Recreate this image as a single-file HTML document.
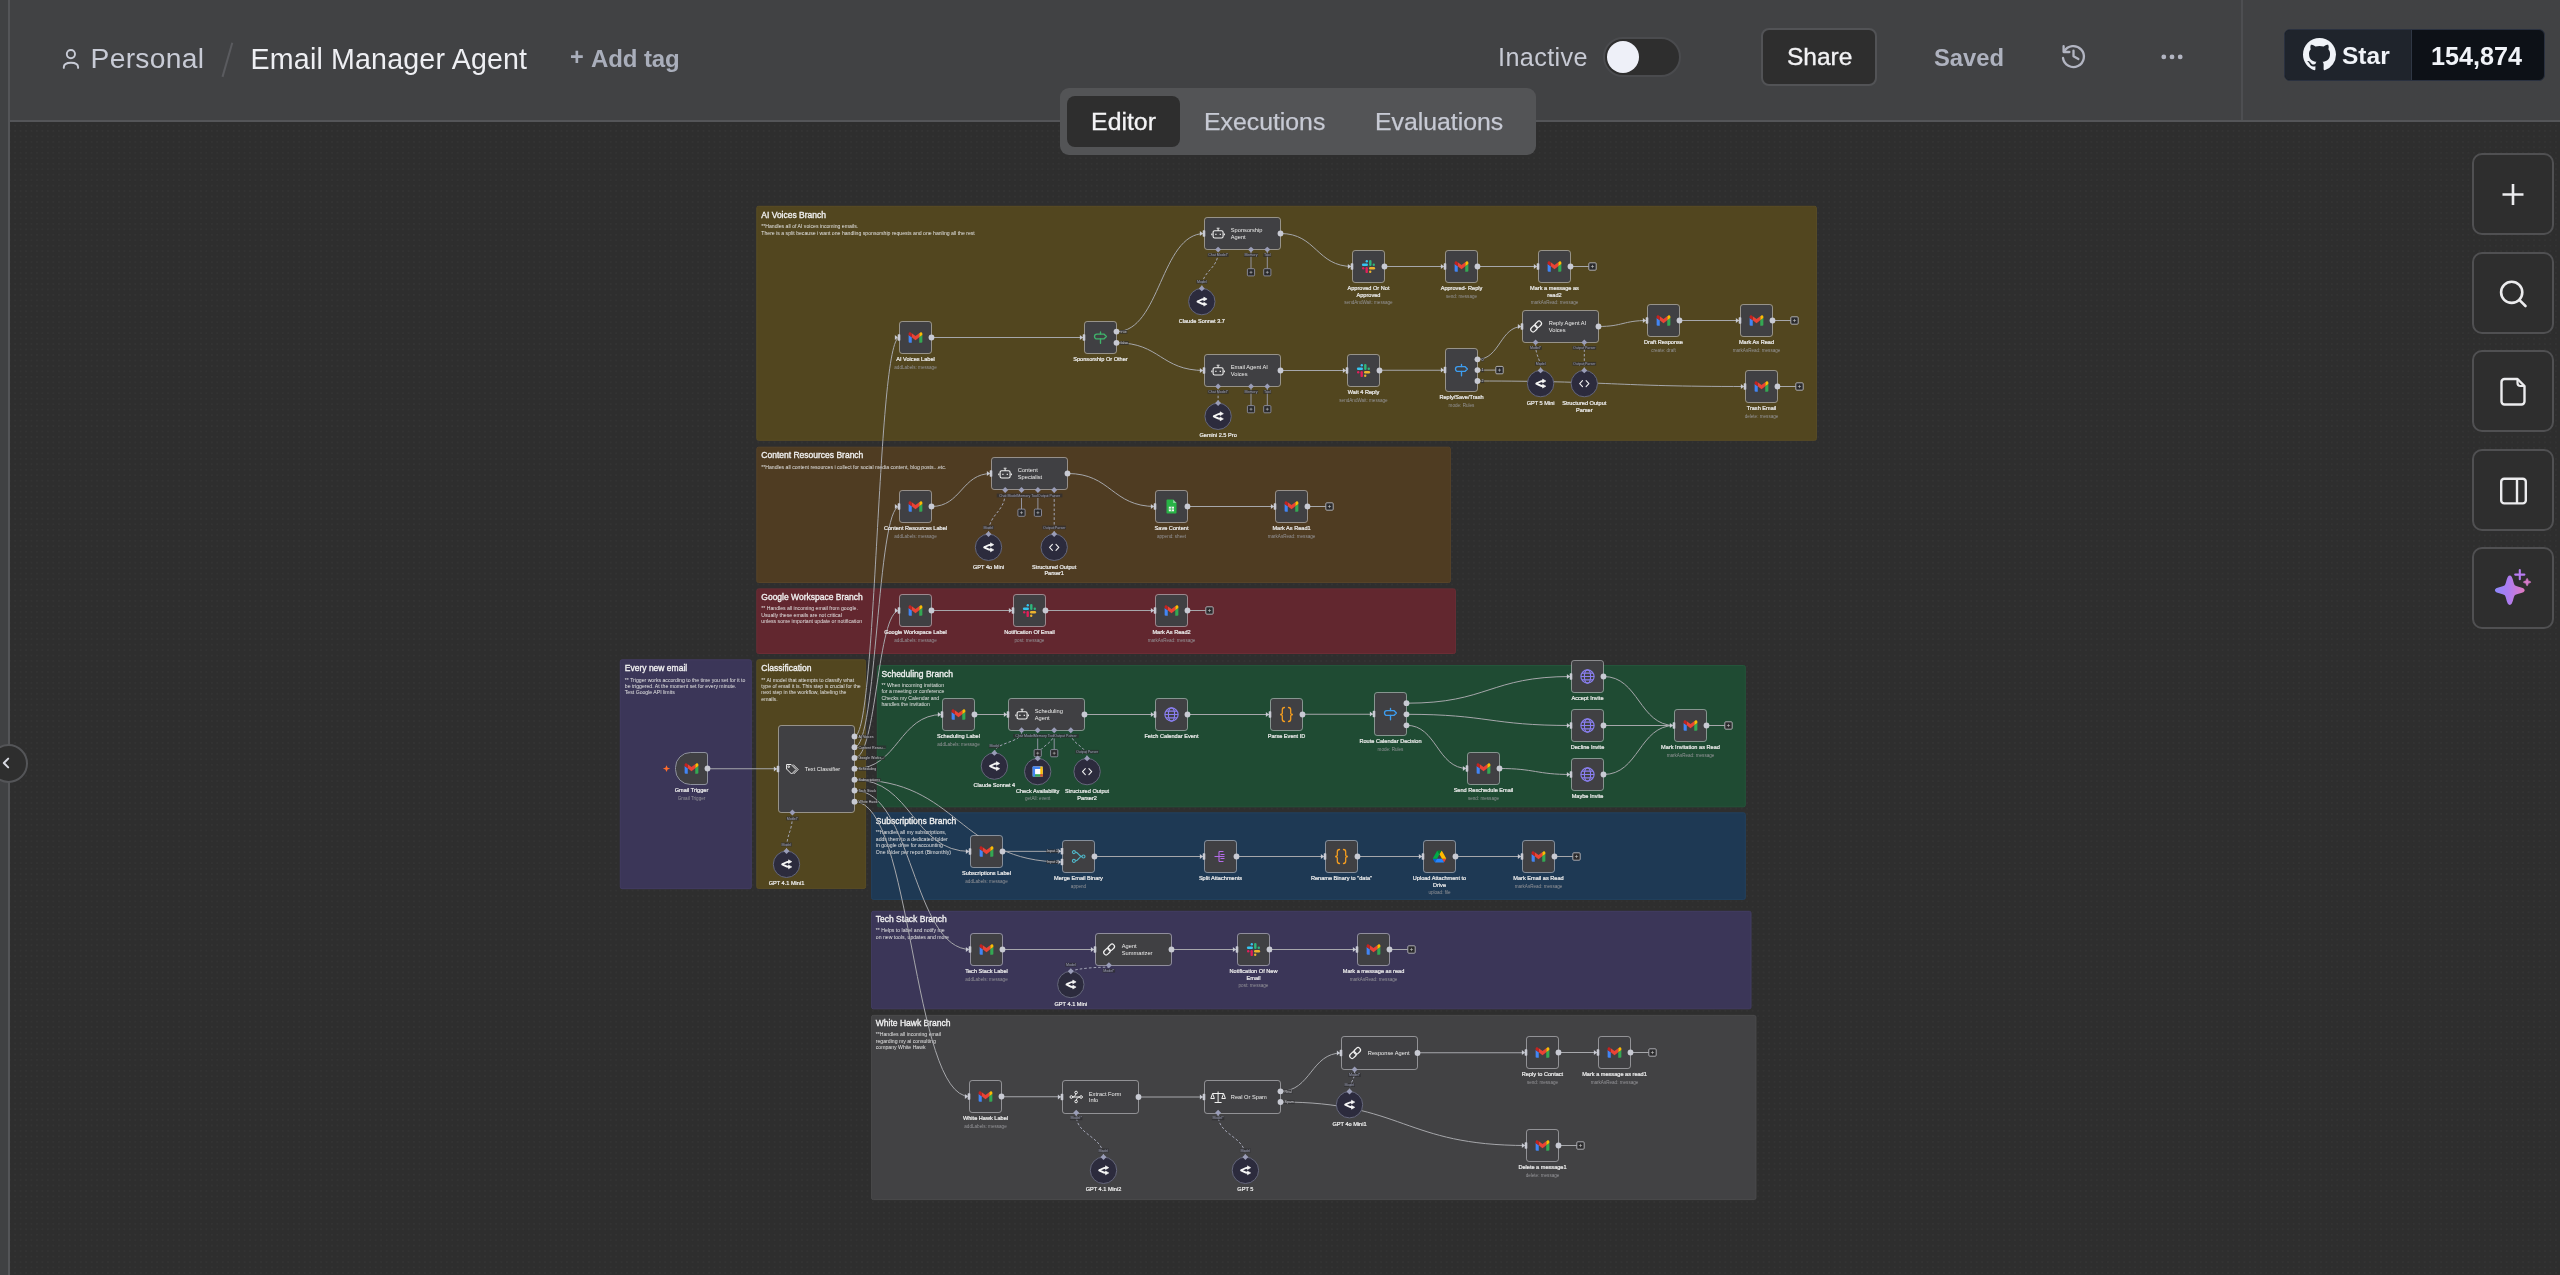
<!DOCTYPE html>
<html><head><meta charset="utf-8"><title>Email Manager Agent - n8n</title>
<style>
*{box-sizing:border-box;margin:0;padding:0}
html{-webkit-font-smoothing:antialiased}
#hdr,#tabs,#canvas,.rbtn{will-change:transform}
html,body{width:2560px;height:1275px;overflow:hidden}
body{background:#2e2e2e;font-family:"Liberation Sans", Arial, Helvetica, sans-serif;position:relative}
#side{position:absolute;left:0;top:0;width:10px;height:1275px;background:#404143;border-right:2px solid #545558}
#hdr{position:absolute;left:10px;top:0;width:2550px;height:122px;background:#414244;border-bottom:2px solid #545558}
#hdr .t{position:absolute;white-space:nowrap;line-height:1}
#vdiv{position:absolute;left:2231px;top:0;width:2px;height:120px;background:#4d4e51}
#canvas{position:absolute;left:0;top:0}
#canvas text{font-family:"Liberation Sans", Arial, Helvetica, sans-serif}
.st{font-size:8.5px;font-weight:400;fill:#f1f1f1;stroke:#f1f1f1;stroke-width:0.33px}
.sb{font-size:5.15px;fill:#e2e2e2}
.nl{font-size:5.6px;font-weight:400;fill:#ececec;stroke:#ececec;stroke-width:0.22px}
.ns{font-size:4.6px;fill:#949498}
.nt{font-size:5.7px;fill:#ededed}
.pl{font-size:3.6px;fill:#c9c9cf}
.pt{font-size:3.6px;fill:#9ea1b8}
.ic{font-family:"Liberation Sans", Arial, Helvetica, sans-serif;font-weight:400}
#tabs{position:absolute;left:1060px;top:88px;width:476px;height:67px;background:#535456;border-radius:9px}
#tabs .tab{position:absolute;top:8px;height:51px;line-height:51px;font-size:24.8px;color:#c7cad4;white-space:nowrap;-webkit-text-stroke:0.25px #c7cad4}
#tabs .act{background:#2e2e2e;border-radius:8px;color:#f4f4f6;text-align:center;-webkit-text-stroke:0.3px #f4f4f6}
.rbtn{position:absolute;left:2472px;width:82px;height:82px;border:2px solid #505052;border-radius:10px;background:#2e2e2e}
.rbtn svg{position:absolute;left:0;top:0}
#collapse{position:absolute;left:-11px;top:744px;width:39px;height:39px;border-radius:50%;background:#2e2e2e;border:2px solid #545558}
</style></head>
<body>
<div id="side"></div>
<div id="hdr">
  <svg style="position:absolute;left:52px;top:48.6px" width="18" height="22" viewBox="0 0 18 22"><circle cx="8.9" cy="5.1" r="4.1" fill="none" stroke="#c8cbd6" stroke-width="1.9"/><path d="M1.8,18.9 V18.3 C1.8,15.4 4.6,13.75 9,13.75 C13.4,13.75 16.1,15.4 16.1,18.3 V18.9" fill="none" stroke="#c8cbd6" stroke-width="1.9" stroke-linecap="round"/></svg>
  <div class="t" style="left:80.6px;top:44.2px;font-size:28.2px;letter-spacing:0.3px;color:#c8cbd6">Personal</div>
  <svg style="position:absolute;left:210px;top:41px" width="14" height="37"><path d="M12.3,1.7 L2.5,35.9" stroke="#5a5b5f" stroke-width="2"/></svg>
  <div class="t" style="left:240.6px;top:44.8px;font-size:28.6px;letter-spacing:0.17px;color:#eeeff3">Email Manager Agent</div>
  <div class="t" style="left:560px;top:46px;font-size:23.5px;font-weight:700;color:#a9aebb">+</div><div class="t" style="left:581px;top:46.5px;font-size:24px;letter-spacing:-0.1px;font-weight:700;color:#a9aebb">Add tag</div>
  <div class="t" style="left:1488px;top:44.7px;font-size:25.2px;letter-spacing:0.4px;color:#c7cad4">Inactive</div>
  <div style="position:absolute;left:1593px;top:37px;width:78px;height:40px;border-radius:20px;background:#2e2e2e;border:2px solid #4a4b4e"></div>
  <div style="position:absolute;left:1596.5px;top:41px;width:32px;height:32px;border-radius:50%;background:#eef0f8"></div>
  <div style="position:absolute;left:1751px;top:28px;width:116px;height:58px;border-radius:8px;background:#2e2e2e;border:2px solid #525356"></div>
  <div class="t" style="left:1777px;top:45.2px;font-size:24.5px;-webkit-text-stroke:0.35px #f2f2f4;color:#f2f2f4">Share</div>
  <div class="t" style="left:1924px;top:45.8px;font-size:23.8px;font-weight:700;color:#aeb2bf">Saved</div>
  <svg style="position:absolute;left:2049px;top:42.3px" width="30" height="28" viewBox="0 0 30 28"><path d="M5.2,9.5 A10.5,10.5 0 1 1 4,16" fill="none" stroke="#b2b5c2" stroke-width="2.3" stroke-linecap="round"/><path d="M4.6,4.2 V10 H10.4" fill="none" stroke="#b2b5c2" stroke-width="2.3" stroke-linecap="round" stroke-linejoin="round"/><path d="M14.5,8.6 V14.2 L19.4,17" fill="none" stroke="#b2b5c2" stroke-width="2.3" stroke-linecap="round" stroke-linejoin="round"/></svg>
  <svg style="position:absolute;left:2150px;top:53px" width="24" height="8"><circle cx="3.8" cy="3.9" r="2.4" fill="#b2b5c2"/><circle cx="12" cy="3.9" r="2.4" fill="#b2b5c2"/><circle cx="20.2" cy="3.9" r="2.4" fill="#b2b5c2"/></svg>
  <div id="vdiv"></div>
  <div style="position:absolute;left:2274px;top:29px;width:261px;height:52px;border-radius:6px;background:#0d1117;border:1px solid #2a3140;overflow:hidden">
    <div style="position:absolute;left:0;top:0;width:127px;height:52px;background:#1f242c;border-right:1px solid #2f3744"></div>
  </div>
  <svg style="position:absolute;left:2293px;top:38px" width="33" height="33" viewBox="0 0 16 16"><path fill="#f0f3f8" d="M8 0C3.58 0 0 3.58 0 8c0 3.54 2.29 6.53 5.47 7.59.4.07.55-.17.55-.38 0-.19-.01-.82-.01-1.49-2.01.37-2.53-.49-2.69-.94-.09-.23-.48-.94-.82-1.13-.28-.15-.68-.52-.01-.53.63-.01 1.08.58 1.23.82.72 1.21 1.87.87 2.33.66.07-.52.28-.87.51-1.07-1.78-.2-3.64-.89-3.64-3.95 0-.87.31-1.59.82-2.15-.08-.2-.36-1.02.08-2.12 0 0 .67-.21 2.2.82.64-.18 1.32-.27 2-.27.68 0 1.36.09 2 .27 1.53-1.04 2.2-.82 2.2-.82.44 1.1.16 1.92.08 2.12.51.56.82 1.27.82 2.15 0 3.07-1.87 3.75-3.65 3.95.29.25.54.73.54 1.48 0 1.07-.01 1.93-.01 2.2 0 .21.15.46.55.38A8.013 8.013 0 0016 8c0-4.42-3.58-8-8-8z"/></svg>
  <div class="t" style="left:2332px;top:43.8px;font-size:24.5px;font-weight:700;color:#f0f3f8">Star</div>
  <div class="t" style="left:2421px;top:44.4px;font-size:25.2px;font-weight:700;color:#f0f3f8">154,874</div>
</div>

<svg id="canvas" width="2560" height="1275" viewBox="0 0 2560 1275" style="position:absolute;left:0;top:0">
<defs><pattern id="dots" patternUnits="userSpaceOnUse" x="4.17" y="5.3" width="5.464" height="5.464"><circle cx="0" cy="0" r="0.7" fill="#3c3c3c"/><circle cx="5.464" cy="0" r="0.7" fill="#3c3c3c"/><circle cx="0" cy="5.464" r="0.7" fill="#3c3c3c"/><circle cx="5.464" cy="5.464" r="0.7" fill="#3c3c3c"/></pattern></defs>
<rect x="10" y="122" width="2550" height="1153" fill="url(#dots)"/>
<rect x="756.8" y="206.3" width="1059.6" height="234.0" rx="1.6" fill="#52461f" stroke="#5a4d25" stroke-width="1"/>
<text x="761.3" y="217.5" class="st">AI Voices Branch</text>
<text x="761.3" y="228.00" class="sb">**Handles all of AI voices incoming emails.</text>
<text x="761.3" y="235.00" class="sb">There is a split because i want one handling sponsorship requests and one hanling all the rest</text>
<rect x="756.8" y="447.2" width="693.6" height="135.3" rx="1.6" fill="#4f3c22" stroke="#574328" stroke-width="1"/>
<text x="761.3" y="458.4" class="st">Content Resources Branch</text>
<text x="761.3" y="468.70" class="sb">**Handles all content resources i collect for social media content, blog posts...etc.</text>
<rect x="756.8" y="588.9" width="698.6" height="64.6" rx="1.6" fill="#62272f" stroke="#6b2d35" stroke-width="1"/>
<text x="761.3" y="600.1" class="st">Google Workspace Branch</text>
<text x="761.3" y="609.80" class="sb">** Handles all incoming email from google.</text>
<text x="761.3" y="616.50" class="sb">Usually these emails are not critical</text>
<text x="761.3" y="623.20" class="sb">unless some important update or notification</text>
<rect x="620.3" y="659.8" width="131.0" height="228.9" rx="1.6" fill="#3b3658" stroke="#433d63" stroke-width="1"/>
<text x="624.8" y="671.0" class="st">Every new email</text>
<text x="624.8" y="681.80" class="sb">** Trigger works according to the time you set for it to</text>
<text x="624.8" y="688.10" class="sb">be triggered. At the moment set for every minute.</text>
<text x="624.8" y="694.40" class="sb">Test Google API limits</text>
<rect x="756.8" y="659.8" width="108.8" height="228.6" rx="1.6" fill="#52461f" stroke="#5a4d25" stroke-width="1"/>
<text x="761.3" y="671.0" class="st">Classification</text>
<text x="761.3" y="681.80" class="sb">** AI model that attempts to classify what</text>
<text x="761.3" y="688.10" class="sb">type of email it is. This step is crucial for the</text>
<text x="761.3" y="694.40" class="sb">next step in the workflow, labeling the</text>
<text x="761.3" y="700.70" class="sb">emails.</text>
<rect x="877.3" y="665.5" width="868.0" height="141.3" rx="1.6" fill="#1f4b33" stroke="#24553a" stroke-width="1"/>
<text x="881.5" y="676.6" class="st">Scheduling Branch</text>
<text x="881.5" y="686.50" class="sb">** When incoming invitation</text>
<text x="881.5" y="693.10" class="sb">for a meeting or conference</text>
<text x="881.5" y="699.70" class="sb">Checks my Calendar and</text>
<text x="881.5" y="706.30" class="sb">handles the invitation</text>
<rect x="871.6" y="812.8" width="873.7" height="86.6" rx="1.6" fill="#1e3954" stroke="#22415f" stroke-width="1"/>
<text x="875.8" y="824.0" class="st">Subscriptions Branch</text>
<text x="875.8" y="834.10" class="sb">**Handles all my subscriptions,</text>
<text x="875.8" y="840.70" class="sb">adds them to a dedicated folder</text>
<text x="875.8" y="847.30" class="sb">in google drive for accounting</text>
<text x="875.8" y="853.90" class="sb">One folder per report (Bimonthly)</text>
<rect x="871.6" y="911.3" width="879.4" height="97.5" rx="1.6" fill="#3b3658" stroke="#433d63" stroke-width="1"/>
<text x="875.8" y="922.3" class="st">Tech Stack Branch</text>
<text x="875.8" y="932.20" class="sb">** Helps to label and notify me</text>
<text x="875.8" y="939.10" class="sb">on new tools, updates and more</text>
<rect x="871.6" y="1015.4" width="884.3" height="184.2" rx="1.6" fill="#424244" stroke="#4a4a4c" stroke-width="1"/>
<text x="875.8" y="1026.3" class="st">White Hawk Branch</text>
<text x="875.8" y="1036.10" class="sb">**Handles all incoming email</text>
<text x="875.8" y="1042.60" class="sb">regarding my ai consulting</text>
<text x="875.8" y="1049.10" class="sb">company White Hawk</text>
<path d="M707.5,768.75 H778.5" fill="none" stroke="#a6a7ab" stroke-width="1.0"/>
<path d="M786.5,850.9 C786.5,832.7 792.4,832.7 792.4,814.5" fill="none" stroke="#a3a5b6" stroke-width="1" stroke-dasharray="2.6 2"/>
<path d="M1251.0,251.8 V268.7" stroke="#9a9cad" stroke-width="0.9"/>
<path d="M1267.3,251.8 V268.7" stroke="#9a9cad" stroke-width="0.9"/>
<path d="M1201.8,288.2 C1201.8,269.9 1218.1,269.9 1218.1,251.6" fill="none" stroke="#a3a5b6" stroke-width="1" stroke-dasharray="2.6 2"/>
<path d="M1251.0,388.6 V405.6" stroke="#9a9cad" stroke-width="0.9"/>
<path d="M1267.3,388.6 V405.6" stroke="#9a9cad" stroke-width="0.9"/>
<path d="M1218.1,402.9 C1218.1,395.6 1218.1,395.6 1218.1,388.4" fill="none" stroke="#a3a5b6" stroke-width="1" stroke-dasharray="2.6 2"/>
<path d="M1570.5,266.5 H1588.9" stroke="#a6a7ab" stroke-width="1.0"/>
<path d="M1772.5,320.5 H1790.9" stroke="#a6a7ab" stroke-width="1.0"/>
<path d="M1477.5,370.1 H1495.9" stroke="#a6a7ab" stroke-width="1.0"/>
<path d="M1540.6,370.2 C1540.6,357.3 1535.6,357.3 1535.6,344.4" fill="none" stroke="#a3a5b6" stroke-width="1" stroke-dasharray="2.6 2"/>
<path d="M1584.3,370.2 C1584.3,357.3 1584.3,357.3 1584.3,344.4" fill="none" stroke="#a3a5b6" stroke-width="1" stroke-dasharray="2.6 2"/>
<path d="M1777.5,386.5 H1795.9" stroke="#a6a7ab" stroke-width="1.0"/>
<path d="M931.5,337.50 H1084.5" fill="none" stroke="#a6a7ab" stroke-width="1.0"/>
<path d="M1116.5,331.6 C1160.5,331.6 1160.5,233.5 1204.5,233.5" fill="none" stroke="#a6a7ab" stroke-width="1.0"/>
<path d="M1116.5,342.8 C1160.5,342.8 1160.5,370.5 1204.5,370.5" fill="none" stroke="#a6a7ab" stroke-width="1.0"/>
<path d="M1280.5,233.5 C1316.5,233.5 1316.5,266.5 1352.5,266.5" fill="none" stroke="#a6a7ab" stroke-width="1.0"/>
<path d="M1384.5,266.50 H1445.5" fill="none" stroke="#a6a7ab" stroke-width="1.0"/>
<path d="M1477.5,266.50 H1538.5" fill="none" stroke="#a6a7ab" stroke-width="1.0"/>
<path d="M1280.5,370.50 H1347.5" fill="none" stroke="#a6a7ab" stroke-width="1.0"/>
<path d="M1379.5,370.25 H1445.5" fill="none" stroke="#a6a7ab" stroke-width="1.0"/>
<path d="M1477.5,359.3 C1500.0,359.3 1500.0,326.5 1522.5,326.5" fill="none" stroke="#a6a7ab" stroke-width="1.0"/>
<path d="M1477.5,381.0 C1611.5,381.0 1611.5,386.5 1745.5,386.5" fill="none" stroke="#a6a7ab" stroke-width="1.0"/>
<path d="M1598.5,326.5 C1623.0,326.5 1623.0,320.5 1647.5,320.5" fill="none" stroke="#a6a7ab" stroke-width="1.0"/>
<path d="M1679.5,320.50 H1740.5" fill="none" stroke="#a6a7ab" stroke-width="1.0"/>
<path d="M1021.5,498.0 V509.1" stroke="#9a9cad" stroke-width="0.9"/>
<path d="M1037.9,498.0 V509.1" stroke="#9a9cad" stroke-width="0.9"/>
<path d="M988.5,533.9 C988.5,513.0 1005.2,513.0 1005.2,492.0" fill="none" stroke="#a3a5b6" stroke-width="1" stroke-dasharray="2.6 2"/>
<path d="M1054.2,533.9 C1054.2,513.0 1054.2,513.0 1054.2,492.0" fill="none" stroke="#a3a5b6" stroke-width="1" stroke-dasharray="2.6 2"/>
<path d="M1307.5,506.5 H1325.9" stroke="#a6a7ab" stroke-width="1.0"/>
<path d="M931.5,506.5 C961.5,506.5 961.5,473.5 991.5,473.5" fill="none" stroke="#a6a7ab" stroke-width="1.0"/>
<path d="M1067.5,473.5 C1111.5,473.5 1111.5,506.5 1155.5,506.5" fill="none" stroke="#a6a7ab" stroke-width="1.0"/>
<path d="M1187.5,506.50 H1275.5" fill="none" stroke="#a6a7ab" stroke-width="1.0"/>
<path d="M1187.5,610.5 H1205.9" stroke="#a6a7ab" stroke-width="1.0"/>
<path d="M931.5,610.50 H1013.5" fill="none" stroke="#a6a7ab" stroke-width="1.0"/>
<path d="M1045.5,610.50 H1155.5" fill="none" stroke="#a6a7ab" stroke-width="1.0"/>
<path d="M1037.7,738.5 V749.6" stroke="#9a9cad" stroke-width="0.9"/>
<path d="M1054.2,738.5 V749.6" stroke="#9a9cad" stroke-width="0.9"/>
<path d="M994.4,752.7 C994.4,742.5 1021.6,742.5 1021.6,732.3" fill="none" stroke="#a3a5b6" stroke-width="1" stroke-dasharray="2.6 2"/>
<path d="M1037.7,758.2 C1037.7,745.2 1054.2,745.2 1054.2,732.3" fill="none" stroke="#a3a5b6" stroke-width="1" stroke-dasharray="2.6 2"/>
<path d="M1087.1,758.2 C1087.1,745.2 1070.8,745.2 1070.8,732.3" fill="none" stroke="#a3a5b6" stroke-width="1" stroke-dasharray="2.6 2"/>
<path d="M1706.5,725.5 H1724.9" stroke="#a6a7ab" stroke-width="1.0"/>
<path d="M974.5,714.50 H1008.5" fill="none" stroke="#a6a7ab" stroke-width="1.0"/>
<path d="M1084.5,714.50 H1155.5" fill="none" stroke="#a6a7ab" stroke-width="1.0"/>
<path d="M1187.5,714.50 H1270.5" fill="none" stroke="#a6a7ab" stroke-width="1.0"/>
<path d="M1302.5,714.25 H1374.5" fill="none" stroke="#a6a7ab" stroke-width="1.0"/>
<path d="M1406.5,703.2 C1489.0,703.2 1489.0,676.5 1571.5,676.5" fill="none" stroke="#a6a7ab" stroke-width="1.0"/>
<path d="M1406.5,714.3 C1489.0,714.3 1489.0,725.5 1571.5,725.5" fill="none" stroke="#a6a7ab" stroke-width="1.0"/>
<path d="M1406.5,725.3 C1437.0,725.3 1437.0,768.5 1467.5,768.5" fill="none" stroke="#a6a7ab" stroke-width="1.0"/>
<path d="M1499.5,768.5 C1535.5,768.5 1535.5,774.5 1571.5,774.5" fill="none" stroke="#a6a7ab" stroke-width="1.0"/>
<path d="M1603.5,676.5 C1639.0,676.5 1639.0,725.5 1674.5,725.5" fill="none" stroke="#a6a7ab" stroke-width="1.0"/>
<path d="M1603.5,725.50 H1674.5" fill="none" stroke="#a6a7ab" stroke-width="1.0"/>
<path d="M1603.5,774.5 C1639.0,774.5 1639.0,725.5 1674.5,725.5" fill="none" stroke="#a6a7ab" stroke-width="1.0"/>
<path d="M1554.5,856.5 H1572.9" stroke="#a6a7ab" stroke-width="1.0"/>
<path d="M1002.5,851.35 H1062.5" fill="none" stroke="#a6a7ab" stroke-width="1.0"/>
<path d="M1094.5,856.50 H1204.5" fill="none" stroke="#a6a7ab" stroke-width="1.0"/>
<path d="M1236.5,856.50 H1325.5" fill="none" stroke="#a6a7ab" stroke-width="1.0"/>
<path d="M1357.5,856.50 H1423.5" fill="none" stroke="#a6a7ab" stroke-width="1.0"/>
<path d="M1455.5,856.50 H1522.5" fill="none" stroke="#a6a7ab" stroke-width="1.0"/>
<path d="M1070.8,971.1 C1080,968 1100,967 1108.9,967.2" fill="none" stroke="#a3a5b6" stroke-width="1" stroke-dasharray="2.6 2"/>
<path d="M1389.5,949.5 H1407.9" stroke="#a6a7ab" stroke-width="1.0"/>
<path d="M1002.5,949.50 H1095.5" fill="none" stroke="#a6a7ab" stroke-width="1.0"/>
<path d="M1171.5,949.50 H1237.5" fill="none" stroke="#a6a7ab" stroke-width="1.0"/>
<path d="M1269.5,949.50 H1357.5" fill="none" stroke="#a6a7ab" stroke-width="1.0"/>
<path d="M1103.5,1156.9 C1103.5,1135.8 1076.2,1135.8 1076.2,1114.8" fill="none" stroke="#a3a5b6" stroke-width="1" stroke-dasharray="2.6 2"/>
<path d="M1245.4,1156.9 C1245.4,1135.8 1218.1,1135.8 1218.1,1114.8" fill="none" stroke="#a3a5b6" stroke-width="1" stroke-dasharray="2.6 2"/>
<path d="M1630.5,1052.5 H1648.9" stroke="#a6a7ab" stroke-width="1.0"/>
<path d="M1558.5,1145.5 H1576.9" stroke="#a6a7ab" stroke-width="1.0"/>
<path d="M1001.5,1096.75 H1062.5" fill="none" stroke="#a6a7ab" stroke-width="1.0"/>
<path d="M1138.5,1097.00 H1204.5" fill="none" stroke="#a6a7ab" stroke-width="1.0"/>
<path d="M1280.5,1091.3 C1311.0,1091.3 1311.0,1053.0 1341.5,1053.0" fill="none" stroke="#a6a7ab" stroke-width="1.0"/>
<path d="M1280.5,1102.0 C1403.5,1102.0 1403.5,1145.5 1526.5,1145.5" fill="none" stroke="#a6a7ab" stroke-width="1.0"/>
<path d="M1417.5,1052.75 H1526.5" fill="none" stroke="#a6a7ab" stroke-width="1.0"/>
<path d="M1558.5,1052.50 H1598.5" fill="none" stroke="#a6a7ab" stroke-width="1.0"/>
<path d="M1349.5,1091.3 C1349.5,1081.4 1354.6,1081.4 1354.6,1071.5" fill="none" stroke="#a3a5b6" stroke-width="1" stroke-dasharray="2.6 2"/>
<path d="M854.5,736.4 C877.0,736.4 877.0,337.5 899.5,337.5" fill="none" stroke="#a6a7ab" stroke-width="1.0"/>
<path d="M854.5,747.2 C877.0,747.2 877.0,506.5 899.5,506.5" fill="none" stroke="#a6a7ab" stroke-width="1.0"/>
<path d="M854.5,757.9 C877.0,757.9 877.0,610.5 899.5,610.5" fill="none" stroke="#a6a7ab" stroke-width="1.0"/>
<path d="M854.5,768.7 C898.5,768.7 898.5,714.5 942.5,714.5" fill="none" stroke="#a6a7ab" stroke-width="1.0"/>
<path d="M854.5,779.7 C912.5,779.7 912.5,851.5 970.5,851.5" fill="none" stroke="#a6a7ab" stroke-width="1.0"/>
<path d="M854.5,779.7 C958.5,779.7 958.5,862.0 1062.5,862.0" fill="none" stroke="#a6a7ab" stroke-width="1.0"/>
<path d="M854.5,790.5 C912.5,790.5 912.5,949.5 970.5,949.5" fill="none" stroke="#a6a7ab" stroke-width="1.0"/>
<path d="M854.5,801.7 C912.0,801.7 912.0,1096.5 969.5,1096.5" fill="none" stroke="#a6a7ab" stroke-width="1.0"/>
<path d="M690.5,752.5 H705.0 Q707.5,752.5 707.5,755.0 V782.0 Q707.5,784.5 705.0,784.5 H690.5 A15,15 0 0 1 675.5,769.5 V767.5 A15,15 0 0 1 690.5,752.5 Z" fill="#404043" stroke="#8e919e" stroke-width="1"/>
<g transform="translate(691.5,768.5) scale(0.156) translate(-96,-75)"><path fill="#4285f4" d="M58 108h14V74L52 59v43c0 3.32 2.69 6 6 6"/><path fill="#34a853" d="M120 108h14c3.32 0 6-2.69 6-6V59l-20 15"/><path fill="#fbbc04" d="M120 48v26l20-15v-8c0-7.42-8.47-11.65-14.4-7.2"/><path fill="#ea4335" d="M72 74V48l24 18 24-18v26L96 92"/><path fill="#c5221f" d="M52 51v8l20 15V48l-5.6-4.2c-5.94-4.45-14.4-.22-14.4 7.2"/></g>
<circle cx="707.5" cy="768.5" r="2.9" fill="#c8cad3"/>
<path d="M666.5,765.2 L667.6,767.8 L670.2,768.6 L667.6,769.4 L666.5,772 L665.4,769.4 L662.8,768.6 L665.4,767.8 Z" fill="#ff6d2d"/>
<rect x="779.0" y="726.0" width="75.0" height="86.0" rx="2.1" fill="#404043"/><rect x="778.5" y="725.5" width="76.0" height="87.0" rx="2.6" fill="none" stroke="#b8b8bd" stroke-opacity="0.68" stroke-width="1"/>
<g transform="translate(792.1,769.0)" fill="none" stroke="#f0f0f0" stroke-width="1.0"><path d="M-5.5,-4.5 H-1 L4,0.5 L-0.5,5 L-5.5,0 Z"/><circle cx="-3.3" cy="-2.3" r="0.8"/><path d="M1,-4.5 L6,0.5 L1.5,5"/></g>
<text x="804.8" y="771.0" class="nt">Text Classifier</text>
<path d="M773.9,766.4 L776.9,769.0 L773.9,771.6 Z" fill="#c8cad3"/><rect x="776.7" y="765.8" width="2.6" height="6.4" rx="0.6" fill="#c8cad3"/>
<circle cx="854.5" cy="736.4" r="2.9" fill="#c8cad3"/>
<circle cx="854.5" cy="747.2" r="2.9" fill="#c8cad3"/>
<circle cx="854.5" cy="757.9" r="2.9" fill="#c8cad3"/>
<circle cx="854.5" cy="768.7" r="2.9" fill="#c8cad3"/>
<circle cx="854.5" cy="779.7" r="2.9" fill="#c8cad3"/>
<circle cx="854.5" cy="790.5" r="2.9" fill="#c8cad3"/>
<circle cx="854.5" cy="801.7" r="2.9" fill="#c8cad3"/>
<rect x="790.3" y="810.4" width="4.2" height="4.2" transform="rotate(45 792.4 812.5)" fill="#9a9db8"/>
<circle cx="786.5" cy="864.3" r="13.2" fill="#2c2b3d" stroke="#65677b" stroke-width="1"/>
<g transform="translate(786.5,864.3)"><path d="M-4.3,0 C-1.8,-1.1 -0.4,-2.6 2.4,-2.6 M-4.3,0 C-1.8,1.1 -0.4,2.6 2.4,2.6" fill="none" stroke="#f5f5f5" stroke-width="1.9" stroke-linecap="round"/><path d="M2.0,-4.5 L5.3,-2.6 L2.0,-0.7 Z M2.0,0.7 L5.3,2.6 L2.0,4.5 Z" fill="#f5f5f5" stroke="#f5f5f5" stroke-width="0.6" stroke-linejoin="round"/></g>
<rect x="784.4" y="849.0" width="4.2" height="4.2" transform="rotate(45 786.5 851.1)" fill="#9a9db8"/>
<rect x="900.0" y="322.0" width="31.0" height="31.0" rx="2.1" fill="#404043"/><rect x="899.5" y="321.5" width="32.0" height="32.0" rx="2.6" fill="none" stroke="#b8b8bd" stroke-opacity="0.68" stroke-width="1"/>
<g transform="translate(915.5,337.5) scale(0.156) translate(-96,-75)"><path fill="#4285f4" d="M58 108h14V74L52 59v43c0 3.32 2.69 6 6 6"/><path fill="#34a853" d="M120 108h14c3.32 0 6-2.69 6-6V59l-20 15"/><path fill="#fbbc04" d="M120 48v26l20-15v-8c0-7.42-8.47-11.65-14.4-7.2"/><path fill="#ea4335" d="M72 74V48l24 18 24-18v26L96 92"/><path fill="#c5221f" d="M52 51v8l20 15V48l-5.6-4.2c-5.94-4.45-14.4-.22-14.4 7.2"/></g>
<path d="M894.9,334.9 L897.9,337.5 L894.9,340.1 Z" fill="#c8cad3"/><rect x="897.7" y="334.3" width="2.6" height="6.4" rx="0.6" fill="#c8cad3"/>
<circle cx="931.5" cy="337.5" r="2.9" fill="#c8cad3"/>
<rect x="1085.0" y="322.0" width="31.0" height="31.0" rx="2.1" fill="#404043"/><rect x="1084.5" y="321.5" width="32.0" height="32.0" rx="2.6" fill="none" stroke="#b8b8bd" stroke-opacity="0.68" stroke-width="1"/>
<g transform="translate(1100.5,337.5)" fill="none" stroke="#3fb36b" stroke-width="1.35" stroke-linejoin="round" stroke-linecap="round"><path d="M0,-5.6 V-3.4 M0,1.4 V5.8"/><path d="M-3.6,-3.4 H3.4 L5.9,-1 L3.4,1.4 H-3.6 A2.4,2.4 0 0 1 -3.6,-3.4 Z"/></g>
<path d="M1079.9,334.9 L1082.9,337.5 L1079.9,340.1 Z" fill="#c8cad3"/><rect x="1082.7" y="334.3" width="2.6" height="6.4" rx="0.6" fill="#c8cad3"/>
<circle cx="1116.5" cy="331.6" r="2.9" fill="#c8cad3"/>
<circle cx="1116.5" cy="342.8" r="2.9" fill="#c8cad3"/>
<rect x="1205.0" y="218.0" width="75.0" height="31.0" rx="2.1" fill="#404043"/><rect x="1204.5" y="217.5" width="76.0" height="32.0" rx="2.6" fill="none" stroke="#b8b8bd" stroke-opacity="0.68" stroke-width="1"/>
<g transform="translate(1218.1,233.5)" fill="none" stroke="#f0f0f0" stroke-width="1.1"><rect x="-5" y="-2.8" width="10" height="7.3" rx="1.6"/><path d="M0,-2.8 V-4.6 M-1.4,-5.2 H1.4"/><path d="M-6.3,0 V1.8 M6.3,0 V1.8"/><path d="M-2.2,0.2 V1.6 M2.2,0.2 V1.6" stroke-width="1.2"/></g>
<text x="1230.8" y="232.2" class="nt">Sponsorship</text>
<text x="1230.8" y="238.8" class="nt">Agent</text>
<path d="M1199.9,230.9 L1202.9,233.5 L1199.9,236.1 Z" fill="#c8cad3"/><rect x="1202.7" y="230.3" width="2.6" height="6.4" rx="0.6" fill="#c8cad3"/>
<circle cx="1280.5" cy="233.5" r="2.9" fill="#c8cad3"/>
<rect x="1216.0" y="247.5" width="4.2" height="4.2" transform="rotate(45 1218.1 249.6)" fill="#9a9db8"/>
<rect x="1248.9" y="247.5" width="4.2" height="4.2" transform="rotate(45 1251.0 249.6)" fill="#9a9db8"/>
<rect x="1265.2" y="247.5" width="4.2" height="4.2" transform="rotate(45 1267.3 249.6)" fill="#9a9db8"/>
<rect x="1247.4" y="268.7" width="7.2" height="7.2" rx="1" fill="#2a2a2c" stroke="#9a9cad" stroke-width="0.8"/><path d="M1251.0,270.8 V273.8 M1249.5,272.3 H1252.5" stroke="#c0c0c0" stroke-width="0.6"/>
<rect x="1263.7" y="268.7" width="7.2" height="7.2" rx="1" fill="#2a2a2c" stroke="#9a9cad" stroke-width="0.8"/><path d="M1267.3,270.8 V273.8 M1265.8,272.3 H1268.8" stroke="#c0c0c0" stroke-width="0.6"/>
<circle cx="1201.8" cy="301.6" r="13.2" fill="#2c2b3d" stroke="#65677b" stroke-width="1"/>
<g transform="translate(1201.8,301.6)"><path d="M-4.3,0 C-1.8,-1.1 -0.4,-2.6 2.4,-2.6 M-4.3,0 C-1.8,1.1 -0.4,2.6 2.4,2.6" fill="none" stroke="#f5f5f5" stroke-width="1.9" stroke-linecap="round"/><path d="M2.0,-4.5 L5.3,-2.6 L2.0,-0.7 Z M2.0,0.7 L5.3,2.6 L2.0,4.5 Z" fill="#f5f5f5" stroke="#f5f5f5" stroke-width="0.6" stroke-linejoin="round"/></g>
<rect x="1199.7" y="286.3" width="4.2" height="4.2" transform="rotate(45 1201.8 288.4)" fill="#9a9db8"/>
<rect x="1205.0" y="355.0" width="75.0" height="31.0" rx="2.1" fill="#404043"/><rect x="1204.5" y="354.5" width="76.0" height="32.0" rx="2.6" fill="none" stroke="#b8b8bd" stroke-opacity="0.68" stroke-width="1"/>
<g transform="translate(1218.1,370.5)" fill="none" stroke="#f0f0f0" stroke-width="1.1"><rect x="-5" y="-2.8" width="10" height="7.3" rx="1.6"/><path d="M0,-2.8 V-4.6 M-1.4,-5.2 H1.4"/><path d="M-6.3,0 V1.8 M6.3,0 V1.8"/><path d="M-2.2,0.2 V1.6 M2.2,0.2 V1.6" stroke-width="1.2"/></g>
<text x="1230.8" y="369.2" class="nt">Email Agent AI</text>
<text x="1230.8" y="375.8" class="nt">Voices</text>
<path d="M1199.9,367.9 L1202.9,370.5 L1199.9,373.1 Z" fill="#c8cad3"/><rect x="1202.7" y="367.3" width="2.6" height="6.4" rx="0.6" fill="#c8cad3"/>
<circle cx="1280.5" cy="370.5" r="2.9" fill="#c8cad3"/>
<rect x="1216.0" y="384.3" width="4.2" height="4.2" transform="rotate(45 1218.1 386.4)" fill="#9a9db8"/>
<rect x="1248.9" y="384.3" width="4.2" height="4.2" transform="rotate(45 1251.0 386.4)" fill="#9a9db8"/>
<rect x="1265.2" y="384.3" width="4.2" height="4.2" transform="rotate(45 1267.3 386.4)" fill="#9a9db8"/>
<rect x="1247.4" y="405.6" width="7.2" height="7.2" rx="1" fill="#2a2a2c" stroke="#9a9cad" stroke-width="0.8"/><path d="M1251.0,407.7 V410.7 M1249.5,409.2 H1252.5" stroke="#c0c0c0" stroke-width="0.6"/>
<rect x="1263.7" y="405.6" width="7.2" height="7.2" rx="1" fill="#2a2a2c" stroke="#9a9cad" stroke-width="0.8"/><path d="M1267.3,407.7 V410.7 M1265.8,409.2 H1268.8" stroke="#c0c0c0" stroke-width="0.6"/>
<circle cx="1218.1" cy="416.3" r="13.2" fill="#2c2b3d" stroke="#65677b" stroke-width="1"/>
<g transform="translate(1218.1,416.3)"><path d="M-4.3,0 C-1.8,-1.1 -0.4,-2.6 2.4,-2.6 M-4.3,0 C-1.8,1.1 -0.4,2.6 2.4,2.6" fill="none" stroke="#f5f5f5" stroke-width="1.9" stroke-linecap="round"/><path d="M2.0,-4.5 L5.3,-2.6 L2.0,-0.7 Z M2.0,0.7 L5.3,2.6 L2.0,4.5 Z" fill="#f5f5f5" stroke="#f5f5f5" stroke-width="0.6" stroke-linejoin="round"/></g>
<rect x="1216.0" y="401.0" width="4.2" height="4.2" transform="rotate(45 1218.1 403.1)" fill="#9a9db8"/>
<rect x="1353.0" y="251.0" width="31.0" height="31.0" rx="2.1" fill="#404043"/><rect x="1352.5" y="250.5" width="32.0" height="32.0" rx="2.6" fill="none" stroke="#b8b8bd" stroke-opacity="0.68" stroke-width="1"/>
<g transform="translate(1368.5,266.5)"><rect x="-6.6" y="-3.0" width="6.1" height="2.4" rx="1.2" fill="#36c5f0"/><circle cx="-1.7" cy="-5.3" r="1.2" fill="#36c5f0"/><rect x="0.6" y="-6.6" width="2.4" height="6.1" rx="1.2" fill="#2eb67d"/><circle cx="5.3" cy="-1.7" r="1.2" fill="#2eb67d"/><rect x="0.5" y="0.6" width="6.1" height="2.4" rx="1.2" fill="#ecb22e"/><circle cx="1.7" cy="5.3" r="1.2" fill="#ecb22e"/><rect x="-3.0" y="0.5" width="2.4" height="6.1" rx="1.2" fill="#e01e5a"/><circle cx="-5.3" cy="1.7" r="1.2" fill="#e01e5a"/></g>
<path d="M1347.9,263.9 L1350.9,266.5 L1347.9,269.1 Z" fill="#c8cad3"/><rect x="1350.7" y="263.3" width="2.6" height="6.4" rx="0.6" fill="#c8cad3"/>
<circle cx="1384.5" cy="266.5" r="2.9" fill="#c8cad3"/>
<rect x="1446.0" y="251.0" width="31.0" height="31.0" rx="2.1" fill="#404043"/><rect x="1445.5" y="250.5" width="32.0" height="32.0" rx="2.6" fill="none" stroke="#b8b8bd" stroke-opacity="0.68" stroke-width="1"/>
<g transform="translate(1461.5,266.5) scale(0.156) translate(-96,-75)"><path fill="#4285f4" d="M58 108h14V74L52 59v43c0 3.32 2.69 6 6 6"/><path fill="#34a853" d="M120 108h14c3.32 0 6-2.69 6-6V59l-20 15"/><path fill="#fbbc04" d="M120 48v26l20-15v-8c0-7.42-8.47-11.65-14.4-7.2"/><path fill="#ea4335" d="M72 74V48l24 18 24-18v26L96 92"/><path fill="#c5221f" d="M52 51v8l20 15V48l-5.6-4.2c-5.94-4.45-14.4-.22-14.4 7.2"/></g>
<path d="M1440.9,263.9 L1443.9,266.5 L1440.9,269.1 Z" fill="#c8cad3"/><rect x="1443.7" y="263.3" width="2.6" height="6.4" rx="0.6" fill="#c8cad3"/>
<circle cx="1477.5" cy="266.5" r="2.9" fill="#c8cad3"/>
<rect x="1539.0" y="251.0" width="31.0" height="31.0" rx="2.1" fill="#404043"/><rect x="1538.5" y="250.5" width="32.0" height="32.0" rx="2.6" fill="none" stroke="#b8b8bd" stroke-opacity="0.68" stroke-width="1"/>
<g transform="translate(1554.5,266.5) scale(0.156) translate(-96,-75)"><path fill="#4285f4" d="M58 108h14V74L52 59v43c0 3.32 2.69 6 6 6"/><path fill="#34a853" d="M120 108h14c3.32 0 6-2.69 6-6V59l-20 15"/><path fill="#fbbc04" d="M120 48v26l20-15v-8c0-7.42-8.47-11.65-14.4-7.2"/><path fill="#ea4335" d="M72 74V48l24 18 24-18v26L96 92"/><path fill="#c5221f" d="M52 51v8l20 15V48l-5.6-4.2c-5.94-4.45-14.4-.22-14.4 7.2"/></g>
<path d="M1533.9,263.9 L1536.9,266.5 L1533.9,269.1 Z" fill="#c8cad3"/><rect x="1536.7" y="263.3" width="2.6" height="6.4" rx="0.6" fill="#c8cad3"/>
<rect x="1588.8" y="262.8" width="7.4" height="7.4" rx="1" fill="#2a2a2c" stroke="#b9b9bd" stroke-width="0.9"/><path d="M1592.5,264.9 V268.1 M1590.9,266.5 H1594.1" stroke="#c0c0c0" stroke-width="0.6"/>
<circle cx="1570.5" cy="266.5" r="2.9" fill="#c8cad3"/>
<rect x="1523.0" y="311.0" width="75.0" height="31.0" rx="2.1" fill="#404043"/><rect x="1522.5" y="310.5" width="76.0" height="32.0" rx="2.6" fill="none" stroke="#b8b8bd" stroke-opacity="0.68" stroke-width="1"/>
<g transform="translate(1536.1,326.5) rotate(-45)" fill="none" stroke="#f0f0f0" stroke-width="1.2"><rect x="-6.6" y="-2.4" width="7.2" height="4.8" rx="2.4"/><rect x="-0.6" y="-2.4" width="7.2" height="4.8" rx="2.4"/></g>
<text x="1548.8" y="325.2" class="nt">Reply Agent AI</text>
<text x="1548.8" y="331.8" class="nt">Voices</text>
<path d="M1517.9,323.9 L1520.9,326.5 L1517.9,329.1 Z" fill="#c8cad3"/><rect x="1520.7" y="323.3" width="2.6" height="6.4" rx="0.6" fill="#c8cad3"/>
<circle cx="1598.5" cy="326.5" r="2.9" fill="#c8cad3"/>
<rect x="1533.5" y="340.3" width="4.2" height="4.2" transform="rotate(45 1535.6 342.4)" fill="#9a9db8"/>
<rect x="1582.2" y="340.3" width="4.2" height="4.2" transform="rotate(45 1584.3 342.4)" fill="#9a9db8"/>
<rect x="1648.0" y="305.0" width="31.0" height="31.0" rx="2.1" fill="#404043"/><rect x="1647.5" y="304.5" width="32.0" height="32.0" rx="2.6" fill="none" stroke="#b8b8bd" stroke-opacity="0.68" stroke-width="1"/>
<g transform="translate(1663.5,320.5) scale(0.156) translate(-96,-75)"><path fill="#4285f4" d="M58 108h14V74L52 59v43c0 3.32 2.69 6 6 6"/><path fill="#34a853" d="M120 108h14c3.32 0 6-2.69 6-6V59l-20 15"/><path fill="#fbbc04" d="M120 48v26l20-15v-8c0-7.42-8.47-11.65-14.4-7.2"/><path fill="#ea4335" d="M72 74V48l24 18 24-18v26L96 92"/><path fill="#c5221f" d="M52 51v8l20 15V48l-5.6-4.2c-5.94-4.45-14.4-.22-14.4 7.2"/></g>
<path d="M1642.9,317.9 L1645.9,320.5 L1642.9,323.1 Z" fill="#c8cad3"/><rect x="1645.7" y="317.3" width="2.6" height="6.4" rx="0.6" fill="#c8cad3"/>
<circle cx="1679.5" cy="320.5" r="2.9" fill="#c8cad3"/>
<rect x="1741.0" y="305.0" width="31.0" height="31.0" rx="2.1" fill="#404043"/><rect x="1740.5" y="304.5" width="32.0" height="32.0" rx="2.6" fill="none" stroke="#b8b8bd" stroke-opacity="0.68" stroke-width="1"/>
<g transform="translate(1756.5,320.5) scale(0.156) translate(-96,-75)"><path fill="#4285f4" d="M58 108h14V74L52 59v43c0 3.32 2.69 6 6 6"/><path fill="#34a853" d="M120 108h14c3.32 0 6-2.69 6-6V59l-20 15"/><path fill="#fbbc04" d="M120 48v26l20-15v-8c0-7.42-8.47-11.65-14.4-7.2"/><path fill="#ea4335" d="M72 74V48l24 18 24-18v26L96 92"/><path fill="#c5221f" d="M52 51v8l20 15V48l-5.6-4.2c-5.94-4.45-14.4-.22-14.4 7.2"/></g>
<path d="M1735.9,317.9 L1738.9,320.5 L1735.9,323.1 Z" fill="#c8cad3"/><rect x="1738.7" y="317.3" width="2.6" height="6.4" rx="0.6" fill="#c8cad3"/>
<rect x="1790.8" y="316.8" width="7.4" height="7.4" rx="1" fill="#2a2a2c" stroke="#b9b9bd" stroke-width="0.9"/><path d="M1794.5,318.9 V322.1 M1792.9,320.5 H1796.1" stroke="#c0c0c0" stroke-width="0.6"/>
<circle cx="1772.5" cy="320.5" r="2.9" fill="#c8cad3"/>
<rect x="1348.0" y="355.0" width="31.0" height="31.0" rx="2.1" fill="#404043"/><rect x="1347.5" y="354.5" width="32.0" height="32.0" rx="2.6" fill="none" stroke="#b8b8bd" stroke-opacity="0.68" stroke-width="1"/>
<g transform="translate(1363.5,370.5)"><rect x="-6.6" y="-3.0" width="6.1" height="2.4" rx="1.2" fill="#36c5f0"/><circle cx="-1.7" cy="-5.3" r="1.2" fill="#36c5f0"/><rect x="0.6" y="-6.6" width="2.4" height="6.1" rx="1.2" fill="#2eb67d"/><circle cx="5.3" cy="-1.7" r="1.2" fill="#2eb67d"/><rect x="0.5" y="0.6" width="6.1" height="2.4" rx="1.2" fill="#ecb22e"/><circle cx="1.7" cy="5.3" r="1.2" fill="#ecb22e"/><rect x="-3.0" y="0.5" width="2.4" height="6.1" rx="1.2" fill="#e01e5a"/><circle cx="-5.3" cy="1.7" r="1.2" fill="#e01e5a"/></g>
<path d="M1342.9,367.9 L1345.9,370.5 L1342.9,373.1 Z" fill="#c8cad3"/><rect x="1345.7" y="367.3" width="2.6" height="6.4" rx="0.6" fill="#c8cad3"/>
<circle cx="1379.5" cy="370.5" r="2.9" fill="#c8cad3"/>
<rect x="1446.0" y="349.0" width="31.0" height="42.0" rx="2.1" fill="#404043"/><rect x="1445.5" y="348.5" width="32.0" height="43.0" rx="2.6" fill="none" stroke="#b8b8bd" stroke-opacity="0.68" stroke-width="1"/>
<g transform="translate(1461.5,370.0)" fill="none" stroke="#3d9df0" stroke-width="1.35" stroke-linejoin="round" stroke-linecap="round"><path d="M0,-5.6 V-3.4 M0,1.4 V5.8"/><path d="M-3.6,-3.4 H3.4 L5.9,-1 L3.4,1.4 H-3.6 A2.4,2.4 0 0 1 -3.6,-3.4 Z"/></g>
<path d="M1440.9,367.4 L1443.9,370.0 L1440.9,372.6 Z" fill="#c8cad3"/><rect x="1443.7" y="366.8" width="2.6" height="6.4" rx="0.6" fill="#c8cad3"/>
<circle cx="1477.5" cy="359.3" r="2.9" fill="#c8cad3"/>
<rect x="1495.8" y="366.4" width="7.4" height="7.4" rx="1" fill="#2a2a2c" stroke="#b9b9bd" stroke-width="0.9"/><path d="M1499.5,368.5 V371.7 M1497.9,370.1 H1501.1" stroke="#c0c0c0" stroke-width="0.6"/>
<circle cx="1477.5" cy="370.1" r="2.9" fill="#c8cad3"/>
<circle cx="1477.5" cy="381.0" r="2.9" fill="#c8cad3"/>
<circle cx="1540.6" cy="383.6" r="13.2" fill="#2c2b3d" stroke="#65677b" stroke-width="1"/>
<g transform="translate(1540.6,383.6)"><path d="M-4.3,0 C-1.8,-1.1 -0.4,-2.6 2.4,-2.6 M-4.3,0 C-1.8,1.1 -0.4,2.6 2.4,2.6" fill="none" stroke="#f5f5f5" stroke-width="1.9" stroke-linecap="round"/><path d="M2.0,-4.5 L5.3,-2.6 L2.0,-0.7 Z M2.0,0.7 L5.3,2.6 L2.0,4.5 Z" fill="#f5f5f5" stroke="#f5f5f5" stroke-width="0.6" stroke-linejoin="round"/></g>
<rect x="1538.5" y="368.3" width="4.2" height="4.2" transform="rotate(45 1540.6 370.4)" fill="#9a9db8"/>
<circle cx="1584.3" cy="383.6" r="13.2" fill="#2c2b3d" stroke="#65677b" stroke-width="1"/>
<g transform="translate(1584.3,383.6)" fill="none" stroke="#f0f0f0" stroke-width="1.1" stroke-linecap="round" stroke-linejoin="round"><path d="M-1.8,-3 L-4.6,0 L-1.8,3 M1.8,-3 L4.6,0 L1.8,3"/></g>
<rect x="1582.2" y="368.3" width="4.2" height="4.2" transform="rotate(45 1584.3 370.4)" fill="#9a9db8"/>
<rect x="1746.0" y="371.0" width="31.0" height="31.0" rx="2.1" fill="#404043"/><rect x="1745.5" y="370.5" width="32.0" height="32.0" rx="2.6" fill="none" stroke="#b8b8bd" stroke-opacity="0.68" stroke-width="1"/>
<g transform="translate(1761.5,386.5) scale(0.156) translate(-96,-75)"><path fill="#4285f4" d="M58 108h14V74L52 59v43c0 3.32 2.69 6 6 6"/><path fill="#34a853" d="M120 108h14c3.32 0 6-2.69 6-6V59l-20 15"/><path fill="#fbbc04" d="M120 48v26l20-15v-8c0-7.42-8.47-11.65-14.4-7.2"/><path fill="#ea4335" d="M72 74V48l24 18 24-18v26L96 92"/><path fill="#c5221f" d="M52 51v8l20 15V48l-5.6-4.2c-5.94-4.45-14.4-.22-14.4 7.2"/></g>
<path d="M1740.9,383.9 L1743.9,386.5 L1740.9,389.1 Z" fill="#c8cad3"/><rect x="1743.7" y="383.3" width="2.6" height="6.4" rx="0.6" fill="#c8cad3"/>
<rect x="1795.8" y="382.8" width="7.4" height="7.4" rx="1" fill="#2a2a2c" stroke="#b9b9bd" stroke-width="0.9"/><path d="M1799.5,384.9 V388.1 M1797.9,386.5 H1801.1" stroke="#c0c0c0" stroke-width="0.6"/>
<circle cx="1777.5" cy="386.5" r="2.9" fill="#c8cad3"/>
<rect x="900.0" y="491.0" width="31.0" height="31.0" rx="2.1" fill="#404043"/><rect x="899.5" y="490.5" width="32.0" height="32.0" rx="2.6" fill="none" stroke="#b8b8bd" stroke-opacity="0.68" stroke-width="1"/>
<g transform="translate(915.5,506.5) scale(0.156) translate(-96,-75)"><path fill="#4285f4" d="M58 108h14V74L52 59v43c0 3.32 2.69 6 6 6"/><path fill="#34a853" d="M120 108h14c3.32 0 6-2.69 6-6V59l-20 15"/><path fill="#fbbc04" d="M120 48v26l20-15v-8c0-7.42-8.47-11.65-14.4-7.2"/><path fill="#ea4335" d="M72 74V48l24 18 24-18v26L96 92"/><path fill="#c5221f" d="M52 51v8l20 15V48l-5.6-4.2c-5.94-4.45-14.4-.22-14.4 7.2"/></g>
<path d="M894.9,503.9 L897.9,506.5 L894.9,509.1 Z" fill="#c8cad3"/><rect x="897.7" y="503.3" width="2.6" height="6.4" rx="0.6" fill="#c8cad3"/>
<circle cx="931.5" cy="506.5" r="2.9" fill="#c8cad3"/>
<rect x="992.0" y="458.0" width="75.0" height="31.0" rx="2.1" fill="#404043"/><rect x="991.5" y="457.5" width="76.0" height="32.0" rx="2.6" fill="none" stroke="#b8b8bd" stroke-opacity="0.68" stroke-width="1"/>
<g transform="translate(1005.1,473.5)" fill="none" stroke="#f0f0f0" stroke-width="1.1"><rect x="-5" y="-2.8" width="10" height="7.3" rx="1.6"/><path d="M0,-2.8 V-4.6 M-1.4,-5.2 H1.4"/><path d="M-6.3,0 V1.8 M6.3,0 V1.8"/><path d="M-2.2,0.2 V1.6 M2.2,0.2 V1.6" stroke-width="1.2"/></g>
<text x="1017.8" y="472.2" class="nt">Content</text>
<text x="1017.8" y="478.8" class="nt">Specialist</text>
<path d="M986.9,470.9 L989.9,473.5 L986.9,476.1 Z" fill="#c8cad3"/><rect x="989.7" y="470.3" width="2.6" height="6.4" rx="0.6" fill="#c8cad3"/>
<circle cx="1067.5" cy="473.5" r="2.9" fill="#c8cad3"/>
<rect x="1003.1" y="487.9" width="4.2" height="4.2" transform="rotate(45 1005.2 490.0)" fill="#9a9db8"/>
<rect x="1019.4" y="487.9" width="4.2" height="4.2" transform="rotate(45 1021.5 490.0)" fill="#9a9db8"/>
<rect x="1035.8" y="487.9" width="4.2" height="4.2" transform="rotate(45 1037.9 490.0)" fill="#9a9db8"/>
<rect x="1052.1" y="487.9" width="4.2" height="4.2" transform="rotate(45 1054.2 490.0)" fill="#9a9db8"/>
<rect x="1017.9" y="509.1" width="7.2" height="7.2" rx="1" fill="#2a2a2c" stroke="#9a9cad" stroke-width="0.8"/><path d="M1021.5,511.2 V514.2 M1020.0,512.7 H1023.0" stroke="#c0c0c0" stroke-width="0.6"/>
<rect x="1034.3" y="509.1" width="7.2" height="7.2" rx="1" fill="#2a2a2c" stroke="#9a9cad" stroke-width="0.8"/><path d="M1037.9,511.2 V514.2 M1036.4,512.7 H1039.4" stroke="#c0c0c0" stroke-width="0.6"/>
<circle cx="988.5" cy="547.3" r="13.2" fill="#2c2b3d" stroke="#65677b" stroke-width="1"/>
<g transform="translate(988.5,547.3)"><path d="M-4.3,0 C-1.8,-1.1 -0.4,-2.6 2.4,-2.6 M-4.3,0 C-1.8,1.1 -0.4,2.6 2.4,2.6" fill="none" stroke="#f5f5f5" stroke-width="1.9" stroke-linecap="round"/><path d="M2.0,-4.5 L5.3,-2.6 L2.0,-0.7 Z M2.0,0.7 L5.3,2.6 L2.0,4.5 Z" fill="#f5f5f5" stroke="#f5f5f5" stroke-width="0.6" stroke-linejoin="round"/></g>
<rect x="986.4" y="532.0" width="4.2" height="4.2" transform="rotate(45 988.5 534.1)" fill="#9a9db8"/>
<circle cx="1054.2" cy="547.3" r="13.2" fill="#2c2b3d" stroke="#65677b" stroke-width="1"/>
<g transform="translate(1054.2,547.3)" fill="none" stroke="#f0f0f0" stroke-width="1.1" stroke-linecap="round" stroke-linejoin="round"><path d="M-1.8,-3 L-4.6,0 L-1.8,3 M1.8,-3 L4.6,0 L1.8,3"/></g>
<rect x="1052.1" y="532.0" width="4.2" height="4.2" transform="rotate(45 1054.2 534.1)" fill="#9a9db8"/>
<rect x="1156.0" y="491.0" width="31.0" height="31.0" rx="2.1" fill="#404043"/><rect x="1155.5" y="490.5" width="32.0" height="32.0" rx="2.6" fill="none" stroke="#b8b8bd" stroke-opacity="0.68" stroke-width="1"/>
<g transform="translate(1171.5,506.5)"><path d="M-5,-6.3 A0.8,0.8 0 0 1 -4.2,-7 H1.6 L5,-3.6 V6.2 A0.8,0.8 0 0 1 4.2,7 H-4.2 A0.8,0.8 0 0 1 -5,6.2 Z" fill="#28b446"/><path d="M1.6,-7 L5,-3.6 H1.6 Z" fill="#8ad49c"/><rect x="-2.7" y="0.2" width="5.2" height="4.6" fill="#f2f2f2"/><path d="M-2.7,2.5 H2.5 M-0.1,0.2 V4.8" stroke="#28b446" stroke-width="0.7"/></g>
<path d="M1150.9,503.9 L1153.9,506.5 L1150.9,509.1 Z" fill="#c8cad3"/><rect x="1153.7" y="503.3" width="2.6" height="6.4" rx="0.6" fill="#c8cad3"/>
<circle cx="1187.5" cy="506.5" r="2.9" fill="#c8cad3"/>
<rect x="1276.0" y="491.0" width="31.0" height="31.0" rx="2.1" fill="#404043"/><rect x="1275.5" y="490.5" width="32.0" height="32.0" rx="2.6" fill="none" stroke="#b8b8bd" stroke-opacity="0.68" stroke-width="1"/>
<g transform="translate(1291.5,506.5) scale(0.156) translate(-96,-75)"><path fill="#4285f4" d="M58 108h14V74L52 59v43c0 3.32 2.69 6 6 6"/><path fill="#34a853" d="M120 108h14c3.32 0 6-2.69 6-6V59l-20 15"/><path fill="#fbbc04" d="M120 48v26l20-15v-8c0-7.42-8.47-11.65-14.4-7.2"/><path fill="#ea4335" d="M72 74V48l24 18 24-18v26L96 92"/><path fill="#c5221f" d="M52 51v8l20 15V48l-5.6-4.2c-5.94-4.45-14.4-.22-14.4 7.2"/></g>
<path d="M1270.9,503.9 L1273.9,506.5 L1270.9,509.1 Z" fill="#c8cad3"/><rect x="1273.7" y="503.3" width="2.6" height="6.4" rx="0.6" fill="#c8cad3"/>
<rect x="1325.8" y="502.8" width="7.4" height="7.4" rx="1" fill="#2a2a2c" stroke="#b9b9bd" stroke-width="0.9"/><path d="M1329.5,504.9 V508.1 M1327.9,506.5 H1331.1" stroke="#c0c0c0" stroke-width="0.6"/>
<circle cx="1307.5" cy="506.5" r="2.9" fill="#c8cad3"/>
<rect x="900.0" y="595.0" width="31.0" height="31.0" rx="2.1" fill="#404043"/><rect x="899.5" y="594.5" width="32.0" height="32.0" rx="2.6" fill="none" stroke="#b8b8bd" stroke-opacity="0.68" stroke-width="1"/>
<g transform="translate(915.5,610.5) scale(0.156) translate(-96,-75)"><path fill="#4285f4" d="M58 108h14V74L52 59v43c0 3.32 2.69 6 6 6"/><path fill="#34a853" d="M120 108h14c3.32 0 6-2.69 6-6V59l-20 15"/><path fill="#fbbc04" d="M120 48v26l20-15v-8c0-7.42-8.47-11.65-14.4-7.2"/><path fill="#ea4335" d="M72 74V48l24 18 24-18v26L96 92"/><path fill="#c5221f" d="M52 51v8l20 15V48l-5.6-4.2c-5.94-4.45-14.4-.22-14.4 7.2"/></g>
<path d="M894.9,607.9 L897.9,610.5 L894.9,613.1 Z" fill="#c8cad3"/><rect x="897.7" y="607.3" width="2.6" height="6.4" rx="0.6" fill="#c8cad3"/>
<circle cx="931.5" cy="610.5" r="2.9" fill="#c8cad3"/>
<rect x="1014.0" y="595.0" width="31.0" height="31.0" rx="2.1" fill="#404043"/><rect x="1013.5" y="594.5" width="32.0" height="32.0" rx="2.6" fill="none" stroke="#b8b8bd" stroke-opacity="0.68" stroke-width="1"/>
<g transform="translate(1029.5,610.5)"><rect x="-6.6" y="-3.0" width="6.1" height="2.4" rx="1.2" fill="#36c5f0"/><circle cx="-1.7" cy="-5.3" r="1.2" fill="#36c5f0"/><rect x="0.6" y="-6.6" width="2.4" height="6.1" rx="1.2" fill="#2eb67d"/><circle cx="5.3" cy="-1.7" r="1.2" fill="#2eb67d"/><rect x="0.5" y="0.6" width="6.1" height="2.4" rx="1.2" fill="#ecb22e"/><circle cx="1.7" cy="5.3" r="1.2" fill="#ecb22e"/><rect x="-3.0" y="0.5" width="2.4" height="6.1" rx="1.2" fill="#e01e5a"/><circle cx="-5.3" cy="1.7" r="1.2" fill="#e01e5a"/></g>
<path d="M1008.9,607.9 L1011.9,610.5 L1008.9,613.1 Z" fill="#c8cad3"/><rect x="1011.7" y="607.3" width="2.6" height="6.4" rx="0.6" fill="#c8cad3"/>
<circle cx="1045.5" cy="610.5" r="2.9" fill="#c8cad3"/>
<rect x="1156.0" y="595.0" width="31.0" height="31.0" rx="2.1" fill="#404043"/><rect x="1155.5" y="594.5" width="32.0" height="32.0" rx="2.6" fill="none" stroke="#b8b8bd" stroke-opacity="0.68" stroke-width="1"/>
<g transform="translate(1171.5,610.5) scale(0.156) translate(-96,-75)"><path fill="#4285f4" d="M58 108h14V74L52 59v43c0 3.32 2.69 6 6 6"/><path fill="#34a853" d="M120 108h14c3.32 0 6-2.69 6-6V59l-20 15"/><path fill="#fbbc04" d="M120 48v26l20-15v-8c0-7.42-8.47-11.65-14.4-7.2"/><path fill="#ea4335" d="M72 74V48l24 18 24-18v26L96 92"/><path fill="#c5221f" d="M52 51v8l20 15V48l-5.6-4.2c-5.94-4.45-14.4-.22-14.4 7.2"/></g>
<path d="M1150.9,607.9 L1153.9,610.5 L1150.9,613.1 Z" fill="#c8cad3"/><rect x="1153.7" y="607.3" width="2.6" height="6.4" rx="0.6" fill="#c8cad3"/>
<rect x="1205.8" y="606.8" width="7.4" height="7.4" rx="1" fill="#2a2a2c" stroke="#b9b9bd" stroke-width="0.9"/><path d="M1209.5,608.9 V612.1 M1207.9,610.5 H1211.1" stroke="#c0c0c0" stroke-width="0.6"/>
<circle cx="1187.5" cy="610.5" r="2.9" fill="#c8cad3"/>
<rect x="943.0" y="699.0" width="31.0" height="31.0" rx="2.1" fill="#404043"/><rect x="942.5" y="698.5" width="32.0" height="32.0" rx="2.6" fill="none" stroke="#b8b8bd" stroke-opacity="0.68" stroke-width="1"/>
<g transform="translate(958.5,714.5) scale(0.156) translate(-96,-75)"><path fill="#4285f4" d="M58 108h14V74L52 59v43c0 3.32 2.69 6 6 6"/><path fill="#34a853" d="M120 108h14c3.32 0 6-2.69 6-6V59l-20 15"/><path fill="#fbbc04" d="M120 48v26l20-15v-8c0-7.42-8.47-11.65-14.4-7.2"/><path fill="#ea4335" d="M72 74V48l24 18 24-18v26L96 92"/><path fill="#c5221f" d="M52 51v8l20 15V48l-5.6-4.2c-5.94-4.45-14.4-.22-14.4 7.2"/></g>
<path d="M937.9,711.9 L940.9,714.5 L937.9,717.1 Z" fill="#c8cad3"/><rect x="940.7" y="711.3" width="2.6" height="6.4" rx="0.6" fill="#c8cad3"/>
<circle cx="974.5" cy="714.5" r="2.9" fill="#c8cad3"/>
<rect x="1009.0" y="699.0" width="75.0" height="31.0" rx="2.1" fill="#404043"/><rect x="1008.5" y="698.5" width="76.0" height="32.0" rx="2.6" fill="none" stroke="#b8b8bd" stroke-opacity="0.68" stroke-width="1"/>
<g transform="translate(1022.1,714.5)" fill="none" stroke="#f0f0f0" stroke-width="1.1"><rect x="-5" y="-2.8" width="10" height="7.3" rx="1.6"/><path d="M0,-2.8 V-4.6 M-1.4,-5.2 H1.4"/><path d="M-6.3,0 V1.8 M6.3,0 V1.8"/><path d="M-2.2,0.2 V1.6 M2.2,0.2 V1.6" stroke-width="1.2"/></g>
<text x="1034.8" y="713.2" class="nt">Scheduling</text>
<text x="1034.8" y="719.8" class="nt">Agent</text>
<path d="M1003.9,711.9 L1006.9,714.5 L1003.9,717.1 Z" fill="#c8cad3"/><rect x="1006.7" y="711.3" width="2.6" height="6.4" rx="0.6" fill="#c8cad3"/>
<circle cx="1084.5" cy="714.5" r="2.9" fill="#c8cad3"/>
<rect x="1019.5" y="728.2" width="4.2" height="4.2" transform="rotate(45 1021.6 730.3)" fill="#9a9db8"/>
<rect x="1035.6" y="728.2" width="4.2" height="4.2" transform="rotate(45 1037.7 730.3)" fill="#9a9db8"/>
<rect x="1052.1" y="728.2" width="4.2" height="4.2" transform="rotate(45 1054.2 730.3)" fill="#9a9db8"/>
<rect x="1068.7" y="728.2" width="4.2" height="4.2" transform="rotate(45 1070.8 730.3)" fill="#9a9db8"/>
<rect x="1034.1" y="749.6" width="7.2" height="7.2" rx="1" fill="#2a2a2c" stroke="#9a9cad" stroke-width="0.8"/><path d="M1037.7,751.7 V754.7 M1036.2,753.2 H1039.2" stroke="#c0c0c0" stroke-width="0.6"/>
<rect x="1050.6" y="749.6" width="7.2" height="7.2" rx="1" fill="#2a2a2c" stroke="#9a9cad" stroke-width="0.8"/><path d="M1054.2,751.7 V754.7 M1052.7,753.2 H1055.7" stroke="#c0c0c0" stroke-width="0.6"/>
<circle cx="994.4" cy="766.1" r="13.2" fill="#2c2b3d" stroke="#65677b" stroke-width="1"/>
<g transform="translate(994.4,766.1)"><path d="M-4.3,0 C-1.8,-1.1 -0.4,-2.6 2.4,-2.6 M-4.3,0 C-1.8,1.1 -0.4,2.6 2.4,2.6" fill="none" stroke="#f5f5f5" stroke-width="1.9" stroke-linecap="round"/><path d="M2.0,-4.5 L5.3,-2.6 L2.0,-0.7 Z M2.0,0.7 L5.3,2.6 L2.0,4.5 Z" fill="#f5f5f5" stroke="#f5f5f5" stroke-width="0.6" stroke-linejoin="round"/></g>
<rect x="992.3" y="750.8" width="4.2" height="4.2" transform="rotate(45 994.4 752.9)" fill="#9a9db8"/>
<circle cx="1037.7" cy="771.6" r="13.2" fill="#2c2b3d" stroke="#65677b" stroke-width="1"/>
<g transform="translate(1037.7,771.6)"><rect x="-5" y="-5" width="10" height="10" rx="1" fill="#fff"/><rect x="-5" y="-5" width="10" height="2.4" fill="#4285f4"/><rect x="2.6" y="-5" width="2.4" height="10" fill="#fbbc04"/><rect x="-5" y="2.6" width="10" height="2.4" fill="#34a853"/><rect x="-5" y="-5" width="2.4" height="10" fill="#4285f4"/><rect x="2.6" y="2.6" width="2.4" height="2.4" fill="#ea4335"/><rect x="-2" y="-2" width="4" height="4" fill="#fff"/></g>
<rect x="1035.6" y="756.3" width="4.2" height="4.2" transform="rotate(45 1037.7 758.4)" fill="#9a9db8"/>
<circle cx="1087.1" cy="771.6" r="13.2" fill="#2c2b3d" stroke="#65677b" stroke-width="1"/>
<g transform="translate(1087.1,771.6)" fill="none" stroke="#f0f0f0" stroke-width="1.1" stroke-linecap="round" stroke-linejoin="round"><path d="M-1.8,-3 L-4.6,0 L-1.8,3 M1.8,-3 L4.6,0 L1.8,3"/></g>
<rect x="1085.0" y="756.3" width="4.2" height="4.2" transform="rotate(45 1087.1 758.4)" fill="#9a9db8"/>
<rect x="1156.0" y="699.0" width="31.0" height="31.0" rx="2.1" fill="#404043"/><rect x="1155.5" y="698.5" width="32.0" height="32.0" rx="2.6" fill="none" stroke="#b8b8bd" stroke-opacity="0.68" stroke-width="1"/>
<g transform="translate(1171.5,714.5)" fill="none" stroke="#8a7ff0" stroke-width="1.15"><circle r="6.6"/><ellipse rx="3.1" ry="6.6"/><path d="M-6.6,0 H6.6 M-5.6,-3.4 H5.6 M-5.6,3.4 H5.6"/></g>
<path d="M1150.9,711.9 L1153.9,714.5 L1150.9,717.1 Z" fill="#c8cad3"/><rect x="1153.7" y="711.3" width="2.6" height="6.4" rx="0.6" fill="#c8cad3"/>
<circle cx="1187.5" cy="714.5" r="2.9" fill="#c8cad3"/>
<rect x="1271.0" y="699.0" width="31.0" height="31.0" rx="2.1" fill="#404043"/><rect x="1270.5" y="698.5" width="32.0" height="32.0" rx="2.6" fill="none" stroke="#b8b8bd" stroke-opacity="0.68" stroke-width="1"/>
<g transform="translate(1286.5,714.5)" fill="none" stroke="#f39c1f" stroke-width="1.3" stroke-linecap="round"><path d="M-2,-7 C-3.8,-7 -4.2,-6.2 -4.2,-4.6 V-1.6 C-4.2,-0.6 -5,0 -6.4,0 C-5,0 -4.2,0.6 -4.2,1.6 V4.6 C-4.2,6.2 -3.8,7 -2,7"/><path d="M2,-7 C3.8,-7 4.2,-6.2 4.2,-4.6 V-1.6 C4.2,-0.6 5,0 6.4,0 C5,0 4.2,0.6 4.2,1.6 V4.6 C4.2,6.2 3.8,7 2,7"/></g>
<path d="M1265.9,711.9 L1268.9,714.5 L1265.9,717.1 Z" fill="#c8cad3"/><rect x="1268.7" y="711.3" width="2.6" height="6.4" rx="0.6" fill="#c8cad3"/>
<circle cx="1302.5" cy="714.5" r="2.9" fill="#c8cad3"/>
<rect x="1375.0" y="693.0" width="31.0" height="42.0" rx="2.1" fill="#404043"/><rect x="1374.5" y="692.5" width="32.0" height="43.0" rx="2.6" fill="none" stroke="#b8b8bd" stroke-opacity="0.68" stroke-width="1"/>
<g transform="translate(1390.5,714.0)" fill="none" stroke="#3d9df0" stroke-width="1.35" stroke-linejoin="round" stroke-linecap="round"><path d="M0,-5.6 V-3.4 M0,1.4 V5.8"/><path d="M-3.6,-3.4 H3.4 L5.9,-1 L3.4,1.4 H-3.6 A2.4,2.4 0 0 1 -3.6,-3.4 Z"/></g>
<path d="M1369.9,711.4 L1372.9,714.0 L1369.9,716.6 Z" fill="#c8cad3"/><rect x="1372.7" y="710.8" width="2.6" height="6.4" rx="0.6" fill="#c8cad3"/>
<circle cx="1406.5" cy="703.2" r="2.9" fill="#c8cad3"/>
<circle cx="1406.5" cy="714.3" r="2.9" fill="#c8cad3"/>
<circle cx="1406.5" cy="725.3" r="2.9" fill="#c8cad3"/>
<rect x="1572.0" y="661.0" width="31.0" height="31.0" rx="2.1" fill="#404043"/><rect x="1571.5" y="660.5" width="32.0" height="32.0" rx="2.6" fill="none" stroke="#b8b8bd" stroke-opacity="0.68" stroke-width="1"/>
<g transform="translate(1587.5,676.5)" fill="none" stroke="#8a7ff0" stroke-width="1.15"><circle r="6.6"/><ellipse rx="3.1" ry="6.6"/><path d="M-6.6,0 H6.6 M-5.6,-3.4 H5.6 M-5.6,3.4 H5.6"/></g>
<path d="M1566.9,673.9 L1569.9,676.5 L1566.9,679.1 Z" fill="#c8cad3"/><rect x="1569.7" y="673.3" width="2.6" height="6.4" rx="0.6" fill="#c8cad3"/>
<circle cx="1603.5" cy="676.5" r="2.9" fill="#c8cad3"/>
<rect x="1572.0" y="710.0" width="31.0" height="31.0" rx="2.1" fill="#404043"/><rect x="1571.5" y="709.5" width="32.0" height="32.0" rx="2.6" fill="none" stroke="#b8b8bd" stroke-opacity="0.68" stroke-width="1"/>
<g transform="translate(1587.5,725.5)" fill="none" stroke="#8a7ff0" stroke-width="1.15"><circle r="6.6"/><ellipse rx="3.1" ry="6.6"/><path d="M-6.6,0 H6.6 M-5.6,-3.4 H5.6 M-5.6,3.4 H5.6"/></g>
<path d="M1566.9,722.9 L1569.9,725.5 L1566.9,728.1 Z" fill="#c8cad3"/><rect x="1569.7" y="722.3" width="2.6" height="6.4" rx="0.6" fill="#c8cad3"/>
<circle cx="1603.5" cy="725.5" r="2.9" fill="#c8cad3"/>
<rect x="1572.0" y="759.0" width="31.0" height="31.0" rx="2.1" fill="#404043"/><rect x="1571.5" y="758.5" width="32.0" height="32.0" rx="2.6" fill="none" stroke="#b8b8bd" stroke-opacity="0.68" stroke-width="1"/>
<g transform="translate(1587.5,774.5)" fill="none" stroke="#8a7ff0" stroke-width="1.15"><circle r="6.6"/><ellipse rx="3.1" ry="6.6"/><path d="M-6.6,0 H6.6 M-5.6,-3.4 H5.6 M-5.6,3.4 H5.6"/></g>
<path d="M1566.9,771.9 L1569.9,774.5 L1566.9,777.1 Z" fill="#c8cad3"/><rect x="1569.7" y="771.3" width="2.6" height="6.4" rx="0.6" fill="#c8cad3"/>
<circle cx="1603.5" cy="774.5" r="2.9" fill="#c8cad3"/>
<rect x="1468.0" y="753.0" width="31.0" height="31.0" rx="2.1" fill="#404043"/><rect x="1467.5" y="752.5" width="32.0" height="32.0" rx="2.6" fill="none" stroke="#b8b8bd" stroke-opacity="0.68" stroke-width="1"/>
<g transform="translate(1483.5,768.5) scale(0.156) translate(-96,-75)"><path fill="#4285f4" d="M58 108h14V74L52 59v43c0 3.32 2.69 6 6 6"/><path fill="#34a853" d="M120 108h14c3.32 0 6-2.69 6-6V59l-20 15"/><path fill="#fbbc04" d="M120 48v26l20-15v-8c0-7.42-8.47-11.65-14.4-7.2"/><path fill="#ea4335" d="M72 74V48l24 18 24-18v26L96 92"/><path fill="#c5221f" d="M52 51v8l20 15V48l-5.6-4.2c-5.94-4.45-14.4-.22-14.4 7.2"/></g>
<path d="M1462.9,765.9 L1465.9,768.5 L1462.9,771.1 Z" fill="#c8cad3"/><rect x="1465.7" y="765.3" width="2.6" height="6.4" rx="0.6" fill="#c8cad3"/>
<circle cx="1499.5" cy="768.5" r="2.9" fill="#c8cad3"/>
<rect x="1675.0" y="710.0" width="31.0" height="31.0" rx="2.1" fill="#404043"/><rect x="1674.5" y="709.5" width="32.0" height="32.0" rx="2.6" fill="none" stroke="#b8b8bd" stroke-opacity="0.68" stroke-width="1"/>
<g transform="translate(1690.5,725.5) scale(0.156) translate(-96,-75)"><path fill="#4285f4" d="M58 108h14V74L52 59v43c0 3.32 2.69 6 6 6"/><path fill="#34a853" d="M120 108h14c3.32 0 6-2.69 6-6V59l-20 15"/><path fill="#fbbc04" d="M120 48v26l20-15v-8c0-7.42-8.47-11.65-14.4-7.2"/><path fill="#ea4335" d="M72 74V48l24 18 24-18v26L96 92"/><path fill="#c5221f" d="M52 51v8l20 15V48l-5.6-4.2c-5.94-4.45-14.4-.22-14.4 7.2"/></g>
<path d="M1669.9,722.9 L1672.9,725.5 L1669.9,728.1 Z" fill="#c8cad3"/><rect x="1672.7" y="722.3" width="2.6" height="6.4" rx="0.6" fill="#c8cad3"/>
<rect x="1724.8" y="721.8" width="7.4" height="7.4" rx="1" fill="#2a2a2c" stroke="#b9b9bd" stroke-width="0.9"/><path d="M1728.5,723.9 V727.1 M1726.9,725.5 H1730.1" stroke="#c0c0c0" stroke-width="0.6"/>
<circle cx="1706.5" cy="725.5" r="2.9" fill="#c8cad3"/>
<rect x="971.0" y="836.0" width="31.0" height="31.0" rx="2.1" fill="#404043"/><rect x="970.5" y="835.5" width="32.0" height="32.0" rx="2.6" fill="none" stroke="#b8b8bd" stroke-opacity="0.68" stroke-width="1"/>
<g transform="translate(986.5,851.5) scale(0.156) translate(-96,-75)"><path fill="#4285f4" d="M58 108h14V74L52 59v43c0 3.32 2.69 6 6 6"/><path fill="#34a853" d="M120 108h14c3.32 0 6-2.69 6-6V59l-20 15"/><path fill="#fbbc04" d="M120 48v26l20-15v-8c0-7.42-8.47-11.65-14.4-7.2"/><path fill="#ea4335" d="M72 74V48l24 18 24-18v26L96 92"/><path fill="#c5221f" d="M52 51v8l20 15V48l-5.6-4.2c-5.94-4.45-14.4-.22-14.4 7.2"/></g>
<path d="M965.9,848.9 L968.9,851.5 L965.9,854.1 Z" fill="#c8cad3"/><rect x="968.7" y="848.3" width="2.6" height="6.4" rx="0.6" fill="#c8cad3"/>
<circle cx="1002.5" cy="851.5" r="2.9" fill="#c8cad3"/>
<rect x="1063.0" y="841.0" width="31.0" height="31.0" rx="2.1" fill="#404043"/><rect x="1062.5" y="840.5" width="32.0" height="32.0" rx="2.6" fill="none" stroke="#b8b8bd" stroke-opacity="0.68" stroke-width="1"/>
<g transform="translate(1078.5,856.5)" fill="none" stroke="#4fb6c8" stroke-width="1.1"><circle cx="-4.6" cy="-4.4" r="1.5"/><circle cx="-4.6" cy="4.4" r="1.5"/><circle cx="5" cy="0" r="1.5"/><path d="M-3.1,-4.4 C0,-4.4 0,0 3.5,0 M-3.1,4.4 C0,4.4 0,0 3.5,0"/></g>
<circle cx="1094.5" cy="856.5" r="2.9" fill="#c8cad3"/>
<path d="M1057.9,848.6 L1060.9,851.2 L1057.9,853.8 Z" fill="#c8cad3"/><rect x="1060.7" y="848.0" width="2.6" height="6.4" rx="0.6" fill="#c8cad3"/>
<path d="M1057.9,859.4 L1060.9,862.0 L1057.9,864.6 Z" fill="#c8cad3"/><rect x="1060.7" y="858.8" width="2.6" height="6.4" rx="0.6" fill="#c8cad3"/>
<rect x="1205.0" y="841.0" width="31.0" height="31.0" rx="2.1" fill="#404043"/><rect x="1204.5" y="840.5" width="32.0" height="32.0" rx="2.6" fill="none" stroke="#b8b8bd" stroke-opacity="0.68" stroke-width="1"/>
<g transform="translate(1220.5,856.5)" fill="none" stroke="#b46ae8" stroke-width="1.1"><path d="M-6,0 H-1.5 M-1.5,-5 V5 M-1.5,-5 H3 M-1.5,5 H3 M0,-2 H4 M0,2 H4 M-1.5,0 H4"/></g>
<path d="M1199.9,853.9 L1202.9,856.5 L1199.9,859.1 Z" fill="#c8cad3"/><rect x="1202.7" y="853.3" width="2.6" height="6.4" rx="0.6" fill="#c8cad3"/>
<circle cx="1236.5" cy="856.5" r="2.9" fill="#c8cad3"/>
<rect x="1326.0" y="841.0" width="31.0" height="31.0" rx="2.1" fill="#404043"/><rect x="1325.5" y="840.5" width="32.0" height="32.0" rx="2.6" fill="none" stroke="#b8b8bd" stroke-opacity="0.68" stroke-width="1"/>
<g transform="translate(1341.5,856.5)" fill="none" stroke="#f39c1f" stroke-width="1.3" stroke-linecap="round"><path d="M-2,-7 C-3.8,-7 -4.2,-6.2 -4.2,-4.6 V-1.6 C-4.2,-0.6 -5,0 -6.4,0 C-5,0 -4.2,0.6 -4.2,1.6 V4.6 C-4.2,6.2 -3.8,7 -2,7"/><path d="M2,-7 C3.8,-7 4.2,-6.2 4.2,-4.6 V-1.6 C4.2,-0.6 5,0 6.4,0 C5,0 4.2,0.6 4.2,1.6 V4.6 C4.2,6.2 3.8,7 2,7"/></g>
<path d="M1320.9,853.9 L1323.9,856.5 L1320.9,859.1 Z" fill="#c8cad3"/><rect x="1323.7" y="853.3" width="2.6" height="6.4" rx="0.6" fill="#c8cad3"/>
<circle cx="1357.5" cy="856.5" r="2.9" fill="#c8cad3"/>
<rect x="1424.0" y="841.0" width="31.0" height="31.0" rx="2.1" fill="#404043"/><rect x="1423.5" y="840.5" width="32.0" height="32.0" rx="2.6" fill="none" stroke="#b8b8bd" stroke-opacity="0.68" stroke-width="1"/>
<g transform="translate(1439.5,856.5) scale(0.152) translate(-43.65,-39)"><path d="m6.6 66.85 3.85 6.65c.8 1.4 1.95 2.5 3.3 3.3l13.75-23.8h-27.5c0 1.55.4 3.1 1.2 4.5z" fill="#0066da"/><path d="m43.65 25-13.75-23.8c-1.35.8-2.5 1.9-3.3 3.3l-25.4 44a9.06 9.06 0 0 0 -1.2 4.5h27.5z" fill="#00ac47"/><path d="m73.55 76.8c1.35-.8 2.5-1.9 3.3-3.3l1.6-2.75 7.65-13.25c.8-1.4 1.2-2.95 1.2-4.5h-27.502l5.852 11.5z" fill="#ea4335"/><path d="m43.65 25 13.75-23.8c-1.35-.8-2.9-1.2-4.5-1.2h-18.5c-1.6 0-3.150.45-4.5 1.2z" fill="#00832d"/><path d="m59.8 53h-32.3l-13.75 23.8c1.35.8 2.9 1.2 4.5 1.2h50.8c1.6 0 3.15-.45 4.5-1.2z" fill="#2684fc"/><path d="m73.4 26.5-12.7-22c-.8-1.4-1.95-2.5-3.3-3.3l-13.75 23.8 16.15 28h27.45c0-1.55-.4-3.1-1.2-4.5z" fill="#ffba00"/></g>
<path d="M1418.9,853.9 L1421.9,856.5 L1418.9,859.1 Z" fill="#c8cad3"/><rect x="1421.7" y="853.3" width="2.6" height="6.4" rx="0.6" fill="#c8cad3"/>
<circle cx="1455.5" cy="856.5" r="2.9" fill="#c8cad3"/>
<rect x="1523.0" y="841.0" width="31.0" height="31.0" rx="2.1" fill="#404043"/><rect x="1522.5" y="840.5" width="32.0" height="32.0" rx="2.6" fill="none" stroke="#b8b8bd" stroke-opacity="0.68" stroke-width="1"/>
<g transform="translate(1538.5,856.5) scale(0.156) translate(-96,-75)"><path fill="#4285f4" d="M58 108h14V74L52 59v43c0 3.32 2.69 6 6 6"/><path fill="#34a853" d="M120 108h14c3.32 0 6-2.69 6-6V59l-20 15"/><path fill="#fbbc04" d="M120 48v26l20-15v-8c0-7.42-8.47-11.65-14.4-7.2"/><path fill="#ea4335" d="M72 74V48l24 18 24-18v26L96 92"/><path fill="#c5221f" d="M52 51v8l20 15V48l-5.6-4.2c-5.94-4.45-14.4-.22-14.4 7.2"/></g>
<path d="M1517.9,853.9 L1520.9,856.5 L1517.9,859.1 Z" fill="#c8cad3"/><rect x="1520.7" y="853.3" width="2.6" height="6.4" rx="0.6" fill="#c8cad3"/>
<rect x="1572.8" y="852.8" width="7.4" height="7.4" rx="1" fill="#2a2a2c" stroke="#b9b9bd" stroke-width="0.9"/><path d="M1576.5,854.9 V858.1 M1574.9,856.5 H1578.1" stroke="#c0c0c0" stroke-width="0.6"/>
<circle cx="1554.5" cy="856.5" r="2.9" fill="#c8cad3"/>
<rect x="971.0" y="934.0" width="31.0" height="31.0" rx="2.1" fill="#404043"/><rect x="970.5" y="933.5" width="32.0" height="32.0" rx="2.6" fill="none" stroke="#b8b8bd" stroke-opacity="0.68" stroke-width="1"/>
<g transform="translate(986.5,949.5) scale(0.156) translate(-96,-75)"><path fill="#4285f4" d="M58 108h14V74L52 59v43c0 3.32 2.69 6 6 6"/><path fill="#34a853" d="M120 108h14c3.32 0 6-2.69 6-6V59l-20 15"/><path fill="#fbbc04" d="M120 48v26l20-15v-8c0-7.42-8.47-11.65-14.4-7.2"/><path fill="#ea4335" d="M72 74V48l24 18 24-18v26L96 92"/><path fill="#c5221f" d="M52 51v8l20 15V48l-5.6-4.2c-5.94-4.45-14.4-.22-14.4 7.2"/></g>
<path d="M965.9,946.9 L968.9,949.5 L965.9,952.1 Z" fill="#c8cad3"/><rect x="968.7" y="946.3" width="2.6" height="6.4" rx="0.6" fill="#c8cad3"/>
<circle cx="1002.5" cy="949.5" r="2.9" fill="#c8cad3"/>
<rect x="1096.0" y="934.0" width="75.0" height="31.0" rx="2.1" fill="#404043"/><rect x="1095.5" y="933.5" width="76.0" height="32.0" rx="2.6" fill="none" stroke="#b8b8bd" stroke-opacity="0.68" stroke-width="1"/>
<g transform="translate(1109.1,949.5) rotate(-45)" fill="none" stroke="#f0f0f0" stroke-width="1.2"><rect x="-6.6" y="-2.4" width="7.2" height="4.8" rx="2.4"/><rect x="-0.6" y="-2.4" width="7.2" height="4.8" rx="2.4"/></g>
<text x="1121.8" y="948.2" class="nt">Agent</text>
<text x="1121.8" y="954.8" class="nt">Summarizer</text>
<path d="M1090.9,946.9 L1093.9,949.5 L1090.9,952.1 Z" fill="#c8cad3"/><rect x="1093.7" y="946.3" width="2.6" height="6.4" rx="0.6" fill="#c8cad3"/>
<circle cx="1171.5" cy="949.5" r="2.9" fill="#c8cad3"/>
<rect x="1106.8" y="963.1" width="4.2" height="4.2" transform="rotate(45 1108.9 965.2)" fill="#9a9db8"/>
<circle cx="1070.8" cy="984.5" r="13.2" fill="#2c2b3d" stroke="#65677b" stroke-width="1"/>
<g transform="translate(1070.8,984.5)"><path d="M-4.3,0 C-1.8,-1.1 -0.4,-2.6 2.4,-2.6 M-4.3,0 C-1.8,1.1 -0.4,2.6 2.4,2.6" fill="none" stroke="#f5f5f5" stroke-width="1.9" stroke-linecap="round"/><path d="M2.0,-4.5 L5.3,-2.6 L2.0,-0.7 Z M2.0,0.7 L5.3,2.6 L2.0,4.5 Z" fill="#f5f5f5" stroke="#f5f5f5" stroke-width="0.6" stroke-linejoin="round"/></g>
<rect x="1068.7" y="969.2" width="4.2" height="4.2" transform="rotate(45 1070.8 971.3)" fill="#9a9db8"/>
<rect x="1238.0" y="934.0" width="31.0" height="31.0" rx="2.1" fill="#404043"/><rect x="1237.5" y="933.5" width="32.0" height="32.0" rx="2.6" fill="none" stroke="#b8b8bd" stroke-opacity="0.68" stroke-width="1"/>
<g transform="translate(1253.5,949.5)"><rect x="-6.6" y="-3.0" width="6.1" height="2.4" rx="1.2" fill="#36c5f0"/><circle cx="-1.7" cy="-5.3" r="1.2" fill="#36c5f0"/><rect x="0.6" y="-6.6" width="2.4" height="6.1" rx="1.2" fill="#2eb67d"/><circle cx="5.3" cy="-1.7" r="1.2" fill="#2eb67d"/><rect x="0.5" y="0.6" width="6.1" height="2.4" rx="1.2" fill="#ecb22e"/><circle cx="1.7" cy="5.3" r="1.2" fill="#ecb22e"/><rect x="-3.0" y="0.5" width="2.4" height="6.1" rx="1.2" fill="#e01e5a"/><circle cx="-5.3" cy="1.7" r="1.2" fill="#e01e5a"/></g>
<path d="M1232.9,946.9 L1235.9,949.5 L1232.9,952.1 Z" fill="#c8cad3"/><rect x="1235.7" y="946.3" width="2.6" height="6.4" rx="0.6" fill="#c8cad3"/>
<circle cx="1269.5" cy="949.5" r="2.9" fill="#c8cad3"/>
<rect x="1358.0" y="934.0" width="31.0" height="31.0" rx="2.1" fill="#404043"/><rect x="1357.5" y="933.5" width="32.0" height="32.0" rx="2.6" fill="none" stroke="#b8b8bd" stroke-opacity="0.68" stroke-width="1"/>
<g transform="translate(1373.5,949.5) scale(0.156) translate(-96,-75)"><path fill="#4285f4" d="M58 108h14V74L52 59v43c0 3.32 2.69 6 6 6"/><path fill="#34a853" d="M120 108h14c3.32 0 6-2.69 6-6V59l-20 15"/><path fill="#fbbc04" d="M120 48v26l20-15v-8c0-7.42-8.47-11.65-14.4-7.2"/><path fill="#ea4335" d="M72 74V48l24 18 24-18v26L96 92"/><path fill="#c5221f" d="M52 51v8l20 15V48l-5.6-4.2c-5.94-4.45-14.4-.22-14.4 7.2"/></g>
<path d="M1352.9,946.9 L1355.9,949.5 L1352.9,952.1 Z" fill="#c8cad3"/><rect x="1355.7" y="946.3" width="2.6" height="6.4" rx="0.6" fill="#c8cad3"/>
<rect x="1407.8" y="945.8" width="7.4" height="7.4" rx="1" fill="#2a2a2c" stroke="#b9b9bd" stroke-width="0.9"/><path d="M1411.5,947.9 V951.1 M1409.9,949.5 H1413.1" stroke="#c0c0c0" stroke-width="0.6"/>
<circle cx="1389.5" cy="949.5" r="2.9" fill="#c8cad3"/>
<rect x="970.0" y="1081.0" width="31.0" height="31.0" rx="2.1" fill="#404043"/><rect x="969.5" y="1080.5" width="32.0" height="32.0" rx="2.6" fill="none" stroke="#b8b8bd" stroke-opacity="0.68" stroke-width="1"/>
<g transform="translate(985.5,1096.5) scale(0.156) translate(-96,-75)"><path fill="#4285f4" d="M58 108h14V74L52 59v43c0 3.32 2.69 6 6 6"/><path fill="#34a853" d="M120 108h14c3.32 0 6-2.69 6-6V59l-20 15"/><path fill="#fbbc04" d="M120 48v26l20-15v-8c0-7.42-8.47-11.65-14.4-7.2"/><path fill="#ea4335" d="M72 74V48l24 18 24-18v26L96 92"/><path fill="#c5221f" d="M52 51v8l20 15V48l-5.6-4.2c-5.94-4.45-14.4-.22-14.4 7.2"/></g>
<path d="M964.9,1093.9 L967.9,1096.5 L964.9,1099.1 Z" fill="#c8cad3"/><rect x="967.7" y="1093.3" width="2.6" height="6.4" rx="0.6" fill="#c8cad3"/>
<circle cx="1001.5" cy="1096.5" r="2.9" fill="#c8cad3"/>
<rect x="1063.0" y="1081.0" width="75.0" height="32.0" rx="2.1" fill="#404043"/><rect x="1062.5" y="1080.5" width="76.0" height="33.0" rx="2.6" fill="none" stroke="#b8b8bd" stroke-opacity="0.68" stroke-width="1"/>
<g transform="translate(1076.1,1097.0)" fill="none" stroke="#f0f0f0" stroke-width="1.0"><circle cx="0" cy="-4.5" r="1.3"/><circle cx="-4.8" cy="0" r="1.3"/><circle cx="5" cy="0" r="1.3"/><circle cx="0" cy="4.5" r="1.3"/><path d="M-3.5,0 H3.7 M0,-3.2 C-1,-1 -2,0 -3.5,0 M0,3.2 C1,1 2,0 3.7,0"/></g>
<text x="1088.8" y="1095.7" class="nt">Extract Form</text>
<text x="1088.8" y="1102.3" class="nt">Info</text>
<path d="M1057.9,1094.4 L1060.9,1097.0 L1057.9,1099.6 Z" fill="#c8cad3"/><rect x="1060.7" y="1093.8" width="2.6" height="6.4" rx="0.6" fill="#c8cad3"/>
<circle cx="1138.5" cy="1097.0" r="2.9" fill="#c8cad3"/>
<rect x="1074.1" y="1110.7" width="4.2" height="4.2" transform="rotate(45 1076.2 1112.8)" fill="#9a9db8"/>
<circle cx="1103.5" cy="1170.3" r="13.2" fill="#2c2b3d" stroke="#65677b" stroke-width="1"/>
<g transform="translate(1103.5,1170.3)"><path d="M-4.3,0 C-1.8,-1.1 -0.4,-2.6 2.4,-2.6 M-4.3,0 C-1.8,1.1 -0.4,2.6 2.4,2.6" fill="none" stroke="#f5f5f5" stroke-width="1.9" stroke-linecap="round"/><path d="M2.0,-4.5 L5.3,-2.6 L2.0,-0.7 Z M2.0,0.7 L5.3,2.6 L2.0,4.5 Z" fill="#f5f5f5" stroke="#f5f5f5" stroke-width="0.6" stroke-linejoin="round"/></g>
<rect x="1101.4" y="1155.0" width="4.2" height="4.2" transform="rotate(45 1103.5 1157.1)" fill="#9a9db8"/>
<rect x="1205.0" y="1081.0" width="75.0" height="32.0" rx="2.1" fill="#404043"/><rect x="1204.5" y="1080.5" width="76.0" height="33.0" rx="2.6" fill="none" stroke="#b8b8bd" stroke-opacity="0.68" stroke-width="1"/>
<g transform="translate(1218.1,1097.0)" fill="none" stroke="#f0f0f0" stroke-width="1.0"><path d="M0,-5.5 V5.5 M-3.5,5.5 H3.5 M-5.5,-3.5 H5.5"/><path d="M-5.5,-3.5 L-7.3,1.5 H-3.7 Z M5.5,-3.5 L3.7,1.5 H7.3 Z"/></g>
<text x="1230.8" y="1099.0" class="nt">Real Or Spam</text>
<path d="M1199.9,1094.4 L1202.9,1097.0 L1199.9,1099.6 Z" fill="#c8cad3"/><rect x="1202.7" y="1093.8" width="2.6" height="6.4" rx="0.6" fill="#c8cad3"/>
<circle cx="1280.5" cy="1091.3" r="2.9" fill="#c8cad3"/>
<circle cx="1280.5" cy="1102.0" r="2.9" fill="#c8cad3"/>
<rect x="1216.0" y="1110.7" width="4.2" height="4.2" transform="rotate(45 1218.1 1112.8)" fill="#9a9db8"/>
<circle cx="1245.4" cy="1170.3" r="13.2" fill="#2c2b3d" stroke="#65677b" stroke-width="1"/>
<g transform="translate(1245.4,1170.3)"><path d="M-4.3,0 C-1.8,-1.1 -0.4,-2.6 2.4,-2.6 M-4.3,0 C-1.8,1.1 -0.4,2.6 2.4,2.6" fill="none" stroke="#f5f5f5" stroke-width="1.9" stroke-linecap="round"/><path d="M2.0,-4.5 L5.3,-2.6 L2.0,-0.7 Z M2.0,0.7 L5.3,2.6 L2.0,4.5 Z" fill="#f5f5f5" stroke="#f5f5f5" stroke-width="0.6" stroke-linejoin="round"/></g>
<rect x="1243.3" y="1155.0" width="4.2" height="4.2" transform="rotate(45 1245.4 1157.1)" fill="#9a9db8"/>
<rect x="1342.0" y="1037.0" width="75.0" height="32.0" rx="2.1" fill="#404043"/><rect x="1341.5" y="1036.5" width="76.0" height="33.0" rx="2.6" fill="none" stroke="#b8b8bd" stroke-opacity="0.68" stroke-width="1"/>
<g transform="translate(1355.1,1053.0) rotate(-45)" fill="none" stroke="#f0f0f0" stroke-width="1.2"><rect x="-6.6" y="-2.4" width="7.2" height="4.8" rx="2.4"/><rect x="-0.6" y="-2.4" width="7.2" height="4.8" rx="2.4"/></g>
<text x="1367.8" y="1055.0" class="nt">Response Agent</text>
<path d="M1336.9,1050.4 L1339.9,1053.0 L1336.9,1055.6 Z" fill="#c8cad3"/><rect x="1339.7" y="1049.8" width="2.6" height="6.4" rx="0.6" fill="#c8cad3"/>
<circle cx="1417.5" cy="1053.0" r="2.9" fill="#c8cad3"/>
<rect x="1352.5" y="1067.4" width="4.2" height="4.2" transform="rotate(45 1354.6 1069.5)" fill="#9a9db8"/>
<rect x="1527.0" y="1037.0" width="31.0" height="31.0" rx="2.1" fill="#404043"/><rect x="1526.5" y="1036.5" width="32.0" height="32.0" rx="2.6" fill="none" stroke="#b8b8bd" stroke-opacity="0.68" stroke-width="1"/>
<g transform="translate(1542.5,1052.5) scale(0.156) translate(-96,-75)"><path fill="#4285f4" d="M58 108h14V74L52 59v43c0 3.32 2.69 6 6 6"/><path fill="#34a853" d="M120 108h14c3.32 0 6-2.69 6-6V59l-20 15"/><path fill="#fbbc04" d="M120 48v26l20-15v-8c0-7.42-8.47-11.65-14.4-7.2"/><path fill="#ea4335" d="M72 74V48l24 18 24-18v26L96 92"/><path fill="#c5221f" d="M52 51v8l20 15V48l-5.6-4.2c-5.94-4.45-14.4-.22-14.4 7.2"/></g>
<path d="M1521.9,1049.9 L1524.9,1052.5 L1521.9,1055.1 Z" fill="#c8cad3"/><rect x="1524.7" y="1049.3" width="2.6" height="6.4" rx="0.6" fill="#c8cad3"/>
<circle cx="1558.5" cy="1052.5" r="2.9" fill="#c8cad3"/>
<rect x="1599.0" y="1037.0" width="31.0" height="31.0" rx="2.1" fill="#404043"/><rect x="1598.5" y="1036.5" width="32.0" height="32.0" rx="2.6" fill="none" stroke="#b8b8bd" stroke-opacity="0.68" stroke-width="1"/>
<g transform="translate(1614.5,1052.5) scale(0.156) translate(-96,-75)"><path fill="#4285f4" d="M58 108h14V74L52 59v43c0 3.32 2.69 6 6 6"/><path fill="#34a853" d="M120 108h14c3.32 0 6-2.69 6-6V59l-20 15"/><path fill="#fbbc04" d="M120 48v26l20-15v-8c0-7.42-8.47-11.65-14.4-7.2"/><path fill="#ea4335" d="M72 74V48l24 18 24-18v26L96 92"/><path fill="#c5221f" d="M52 51v8l20 15V48l-5.6-4.2c-5.94-4.45-14.4-.22-14.4 7.2"/></g>
<path d="M1593.9,1049.9 L1596.9,1052.5 L1593.9,1055.1 Z" fill="#c8cad3"/><rect x="1596.7" y="1049.3" width="2.6" height="6.4" rx="0.6" fill="#c8cad3"/>
<rect x="1648.8" y="1048.8" width="7.4" height="7.4" rx="1" fill="#2a2a2c" stroke="#b9b9bd" stroke-width="0.9"/><path d="M1652.5,1050.9 V1054.1 M1650.9,1052.5 H1654.1" stroke="#c0c0c0" stroke-width="0.6"/>
<circle cx="1630.5" cy="1052.5" r="2.9" fill="#c8cad3"/>
<rect x="1527.0" y="1130.0" width="31.0" height="31.0" rx="2.1" fill="#404043"/><rect x="1526.5" y="1129.5" width="32.0" height="32.0" rx="2.6" fill="none" stroke="#b8b8bd" stroke-opacity="0.68" stroke-width="1"/>
<g transform="translate(1542.5,1145.5) scale(0.156) translate(-96,-75)"><path fill="#4285f4" d="M58 108h14V74L52 59v43c0 3.32 2.69 6 6 6"/><path fill="#34a853" d="M120 108h14c3.32 0 6-2.69 6-6V59l-20 15"/><path fill="#fbbc04" d="M120 48v26l20-15v-8c0-7.42-8.47-11.65-14.4-7.2"/><path fill="#ea4335" d="M72 74V48l24 18 24-18v26L96 92"/><path fill="#c5221f" d="M52 51v8l20 15V48l-5.6-4.2c-5.94-4.45-14.4-.22-14.4 7.2"/></g>
<path d="M1521.9,1142.9 L1524.9,1145.5 L1521.9,1148.1 Z" fill="#c8cad3"/><rect x="1524.7" y="1142.3" width="2.6" height="6.4" rx="0.6" fill="#c8cad3"/>
<rect x="1576.8" y="1141.8" width="7.4" height="7.4" rx="1" fill="#2a2a2c" stroke="#b9b9bd" stroke-width="0.9"/><path d="M1580.5,1143.9 V1147.1 M1578.9,1145.5 H1582.1" stroke="#c0c0c0" stroke-width="0.6"/>
<circle cx="1558.5" cy="1145.5" r="2.9" fill="#c8cad3"/>
<circle cx="1349.5" cy="1104.7" r="13.2" fill="#2c2b3d" stroke="#65677b" stroke-width="1"/>
<g transform="translate(1349.5,1104.7)"><path d="M-4.3,0 C-1.8,-1.1 -0.4,-2.6 2.4,-2.6 M-4.3,0 C-1.8,1.1 -0.4,2.6 2.4,2.6" fill="none" stroke="#f5f5f5" stroke-width="1.9" stroke-linecap="round"/><path d="M2.0,-4.5 L5.3,-2.6 L2.0,-0.7 Z M2.0,0.7 L5.3,2.6 L2.0,4.5 Z" fill="#f5f5f5" stroke="#f5f5f5" stroke-width="0.6" stroke-linejoin="round"/></g>
<rect x="1347.4" y="1089.4" width="4.2" height="4.2" transform="rotate(45 1349.5 1091.5)" fill="#9a9db8"/>
<text x="691.5" y="792.3" text-anchor="middle" class="nl">Gmail Trigger</text>
<text x="691.5" y="799.7" text-anchor="middle" class="ns">Gmail Trigger</text>
<rect x="857.9" y="734.7" width="16.2" height="3.8" fill="#2e2e30" fill-opacity="0.72"/><text x="858.5" y="737.7" class="pl">AI Voices</text>
<rect x="857.9" y="745.5" width="28.2" height="3.8" fill="#2e2e30" fill-opacity="0.72"/><text x="858.5" y="748.5" class="pl">Content Resou...</text>
<rect x="857.9" y="756.2" width="26.9" height="3.8" fill="#2e2e30" fill-opacity="0.72"/><text x="858.5" y="759.2" class="pl">Google Works...</text>
<rect x="857.9" y="767.0" width="19.0" height="3.8" fill="#2e2e30" fill-opacity="0.72"/><text x="858.5" y="770.0" class="pl">Scheduling</text>
<rect x="857.9" y="778.0" width="22.8" height="3.8" fill="#2e2e30" fill-opacity="0.72"/><text x="858.5" y="781.0" class="pl">Subscriptions</text>
<rect x="857.9" y="788.8" width="18.8" height="3.8" fill="#2e2e30" fill-opacity="0.72"/><text x="858.5" y="791.8" class="pl">Tech Stack</text>
<rect x="857.9" y="800.0" width="20.4" height="3.8" fill="#2e2e30" fill-opacity="0.72"/><text x="858.5" y="803.0" class="pl">White Hawk</text>
<rect x="786.2" y="816.6" width="12.4" height="3.8" fill="#2e2e30" fill-opacity="0.72"/><text x="792.4" y="819.6" text-anchor="middle" class="pt">Model*</text>
<rect x="781.0" y="842.6" width="11.0" height="3.8" fill="#2e2e30" fill-opacity="0.72"/><text x="786.5" y="845.6" text-anchor="middle" class="pt">Model</text>
<text x="786.5" y="885.0" text-anchor="middle" class="nl">GPT 4.1 Mini1</text>
<text x="915.5" y="361.3" text-anchor="middle" class="nl">AI Voices Label</text>
<text x="915.5" y="368.7" text-anchor="middle" class="ns">addLabels: message</text>
<rect x="1119.9" y="329.9" width="7.4" height="3.8" fill="#2e2e30" fill-opacity="0.72"/><text x="1120.5" y="332.9" class="pl">true</text>
<rect x="1119.9" y="341.1" width="8.8" height="3.8" fill="#2e2e30" fill-opacity="0.72"/><text x="1120.5" y="344.1" class="pl">false</text>
<text x="1100.5" y="361.3" text-anchor="middle" class="nl">Sponsorship Or Other</text>
<rect x="1207.6" y="253.2" width="21.0" height="3.8" fill="#2e2e30" fill-opacity="0.72"/><text x="1218.1" y="256.2" text-anchor="middle" class="pt">Chat Model*</text>
<rect x="1243.9" y="253.2" width="14.2" height="3.8" fill="#2e2e30" fill-opacity="0.72"/><text x="1251.0" y="256.2" text-anchor="middle" class="pt">Memory</text>
<rect x="1263.4" y="253.2" width="7.8" height="3.8" fill="#2e2e30" fill-opacity="0.72"/><text x="1267.3" y="256.2" text-anchor="middle" class="pt">Tool</text>
<rect x="1196.3" y="279.9" width="11.0" height="3.8" fill="#2e2e30" fill-opacity="0.72"/><text x="1201.8" y="282.9" text-anchor="middle" class="pt">Model</text>
<text x="1201.8" y="322.9" text-anchor="middle" class="nl">Claude Sonnet 3.7</text>
<rect x="1207.6" y="390.0" width="21.0" height="3.8" fill="#2e2e30" fill-opacity="0.72"/><text x="1218.1" y="393.0" text-anchor="middle" class="pt">Chat Model*</text>
<rect x="1243.9" y="390.0" width="14.2" height="3.8" fill="#2e2e30" fill-opacity="0.72"/><text x="1251.0" y="393.0" text-anchor="middle" class="pt">Memory</text>
<rect x="1263.4" y="390.0" width="7.8" height="3.8" fill="#2e2e30" fill-opacity="0.72"/><text x="1267.3" y="393.0" text-anchor="middle" class="pt">Tool</text>
<text x="1218.1" y="437.0" text-anchor="middle" class="nl">Gemini 2.5 Pro</text>
<text x="1368.5" y="290.3" text-anchor="middle" class="nl">Approved Or Not</text>
<text x="1368.5" y="296.9" text-anchor="middle" class="nl">Approved</text>
<text x="1368.5" y="304.3" text-anchor="middle" class="ns">sendAndWait: message</text>
<text x="1461.5" y="290.3" text-anchor="middle" class="nl">Approved- Reply</text>
<text x="1461.5" y="297.7" text-anchor="middle" class="ns">send: message</text>
<text x="1554.5" y="290.3" text-anchor="middle" class="nl">Mark a message as</text>
<text x="1554.5" y="296.9" text-anchor="middle" class="nl">read2</text>
<text x="1554.5" y="304.3" text-anchor="middle" class="ns">markAsRead: message</text>
<rect x="1529.4" y="346.0" width="12.4" height="3.8" fill="#2e2e30" fill-opacity="0.72"/><text x="1535.6" y="349.0" text-anchor="middle" class="pt">Model*</text>
<rect x="1572.5" y="346.0" width="23.6" height="3.8" fill="#2e2e30" fill-opacity="0.72"/><text x="1584.3" y="349.0" text-anchor="middle" class="pt">Output Parser</text>
<text x="1663.5" y="344.3" text-anchor="middle" class="nl">Draft Response</text>
<text x="1663.5" y="351.7" text-anchor="middle" class="ns">create: draft</text>
<text x="1756.5" y="344.3" text-anchor="middle" class="nl">Mark As Read</text>
<text x="1756.5" y="351.7" text-anchor="middle" class="ns">markAsRead: message</text>
<text x="1363.5" y="394.3" text-anchor="middle" class="nl">Wait 4 Reply</text>
<text x="1363.5" y="401.7" text-anchor="middle" class="ns">sendAndWait: message</text>
<rect x="1480.9" y="357.6" width="3.2" height="3.8" fill="#2e2e30" fill-opacity="0.72"/><text x="1481.5" y="360.6" class="pl">0</text>
<rect x="1480.9" y="368.4" width="3.2" height="3.8" fill="#2e2e30" fill-opacity="0.72"/><text x="1481.5" y="371.4" class="pl">1</text>
<rect x="1480.9" y="379.3" width="3.2" height="3.8" fill="#2e2e30" fill-opacity="0.72"/><text x="1481.5" y="382.3" class="pl">2</text>
<text x="1461.5" y="399.3" text-anchor="middle" class="nl">Reply/Save/Trash</text>
<text x="1461.5" y="406.7" text-anchor="middle" class="ns">mode: Rules</text>
<rect x="1535.1" y="361.9" width="11.0" height="3.8" fill="#2e2e30" fill-opacity="0.72"/><text x="1540.6" y="364.9" text-anchor="middle" class="pt">Model</text>
<text x="1540.6" y="405.0" text-anchor="middle" class="nl">GPT 5 Mini</text>
<rect x="1572.5" y="361.9" width="23.6" height="3.8" fill="#2e2e30" fill-opacity="0.72"/><text x="1584.3" y="364.9" text-anchor="middle" class="pt">Output Parser</text>
<text x="1584.3" y="405.0" text-anchor="middle" class="nl">Structured Output</text>
<text x="1584.3" y="411.6" text-anchor="middle" class="nl">Parser</text>
<text x="1761.5" y="410.3" text-anchor="middle" class="nl">Trash Email</text>
<text x="1761.5" y="417.7" text-anchor="middle" class="ns">delete: message</text>
<text x="915.5" y="530.3" text-anchor="middle" class="nl">Content Resources Label</text>
<text x="915.5" y="537.7" text-anchor="middle" class="ns">addLabels: message</text>
<rect x="996.8" y="493.6" width="65.6" height="3.8" fill="#2e2e30" fill-opacity="0.72"/><text x="1029.6" y="496.6" text-anchor="middle" class="pt">Chat ModelMemory    ToolOutput Parser</text>
<rect x="983.0" y="525.6" width="11.0" height="3.8" fill="#2e2e30" fill-opacity="0.72"/><text x="988.5" y="528.6" text-anchor="middle" class="pt">Model</text>
<text x="988.5" y="568.6" text-anchor="middle" class="nl">GPT 4o Mini</text>
<rect x="1042.4" y="525.6" width="23.6" height="3.8" fill="#2e2e30" fill-opacity="0.72"/><text x="1054.2" y="528.6" text-anchor="middle" class="pt">Output Parser</text>
<text x="1054.2" y="568.6" text-anchor="middle" class="nl">Structured Output</text>
<text x="1054.2" y="575.2" text-anchor="middle" class="nl">Parser1</text>
<text x="1171.5" y="530.3" text-anchor="middle" class="nl">Save Content</text>
<text x="1171.5" y="537.7" text-anchor="middle" class="ns">append: sheet</text>
<text x="1291.5" y="530.3" text-anchor="middle" class="nl">Mark As Read1</text>
<text x="1291.5" y="537.7" text-anchor="middle" class="ns">markAsRead: message</text>
<text x="915.5" y="634.3" text-anchor="middle" class="nl">Google Workspace Label</text>
<text x="915.5" y="641.7" text-anchor="middle" class="ns">addLabels: message</text>
<text x="1029.5" y="634.3" text-anchor="middle" class="nl">Notification Of Email</text>
<text x="1029.5" y="641.7" text-anchor="middle" class="ns">post: message</text>
<text x="1171.5" y="634.3" text-anchor="middle" class="nl">Mark As Read2</text>
<text x="1171.5" y="641.7" text-anchor="middle" class="ns">markAsRead: message</text>
<text x="958.5" y="738.3" text-anchor="middle" class="nl">Scheduling Label</text>
<text x="958.5" y="745.7" text-anchor="middle" class="ns">addLabels: message</text>
<rect x="1013.2" y="734.0" width="65.6" height="3.8" fill="#2e2e30" fill-opacity="0.72"/><text x="1046" y="737.0" text-anchor="middle" class="pt">Chat ModelMemory    ToolOutput Parser</text>
<rect x="988.9" y="744.4" width="11.0" height="3.8" fill="#2e2e30" fill-opacity="0.72"/><text x="994.4" y="747.4" text-anchor="middle" class="pt">Model</text>
<text x="994.4" y="786.9" text-anchor="middle" class="nl">Claude Sonnet 4</text>
<text x="1037.7" y="792.9" text-anchor="middle" class="nl">Check Availability</text>
<text x="1037.7" y="800.3" text-anchor="middle" class="ns">getAll: event</text>
<rect x="1075.3" y="749.9" width="23.6" height="3.8" fill="#2e2e30" fill-opacity="0.72"/><text x="1087.1" y="752.9" text-anchor="middle" class="pt">Output Parser</text>
<text x="1087.1" y="792.9" text-anchor="middle" class="nl">Structured Output</text>
<text x="1087.1" y="799.5" text-anchor="middle" class="nl">Parser2</text>
<text x="1171.5" y="738.3" text-anchor="middle" class="nl">Fetch Calendar Event</text>
<text x="1286.5" y="738.3" text-anchor="middle" class="nl">Parse Event ID</text>
<text x="1390.5" y="743.3" text-anchor="middle" class="nl">Route Calendar Decision</text>
<text x="1390.5" y="750.7" text-anchor="middle" class="ns">mode: Rules</text>
<text x="1587.5" y="700.3" text-anchor="middle" class="nl">Accept Invite</text>
<text x="1587.5" y="749.3" text-anchor="middle" class="nl">Decline Invite</text>
<text x="1587.5" y="798.3" text-anchor="middle" class="nl">Maybe Invite</text>
<text x="1483.5" y="792.3" text-anchor="middle" class="nl">Send Reschedule Email</text>
<text x="1483.5" y="799.7" text-anchor="middle" class="ns">send: message</text>
<text x="1690.5" y="749.3" text-anchor="middle" class="nl">Mark Invitation as Read</text>
<text x="1690.5" y="756.7" text-anchor="middle" class="ns">markAsRead: message</text>
<text x="986.5" y="875.3" text-anchor="middle" class="nl">Subscriptions Label</text>
<text x="986.5" y="882.7" text-anchor="middle" class="ns">addLabels: message</text>
<text x="1078.5" y="880.3" text-anchor="middle" class="nl">Merge Email Binary</text>
<text x="1078.5" y="887.7" text-anchor="middle" class="ns">append</text>
<rect x="1046.4" y="849.4" width="12.2" height="3.8" fill="#2e2e30" fill-opacity="0.72"/><text x="1058" y="852.4" text-anchor="end" class="pl">Input 1</text>
<rect x="1046.4" y="860.2" width="12.2" height="3.8" fill="#2e2e30" fill-opacity="0.72"/><text x="1058" y="863.2" text-anchor="end" class="pl">Input 2</text>
<text x="1220.5" y="880.3" text-anchor="middle" class="nl">Split Attachments</text>
<text x="1341.5" y="880.3" text-anchor="middle" class="nl">Rename Binary to &quot;data&quot;</text>
<text x="1439.5" y="880.3" text-anchor="middle" class="nl">Upload Attachment to</text>
<text x="1439.5" y="886.9" text-anchor="middle" class="nl">Drive</text>
<text x="1439.5" y="894.3" text-anchor="middle" class="ns">upload: file</text>
<text x="1538.5" y="880.3" text-anchor="middle" class="nl">Mark Email as Read</text>
<text x="1538.5" y="887.7" text-anchor="middle" class="ns">markAsRead: message</text>
<text x="986.5" y="973.3" text-anchor="middle" class="nl">Tech Stack Label</text>
<text x="986.5" y="980.7" text-anchor="middle" class="ns">addLabels: message</text>
<rect x="1102.7" y="968.8" width="12.4" height="3.8" fill="#2e2e30" fill-opacity="0.72"/><text x="1108.9" y="971.8" text-anchor="middle" class="pt">Model*</text>
<rect x="1065.3" y="962.8" width="11.0" height="3.8" fill="#2e2e30" fill-opacity="0.72"/><text x="1070.8" y="965.8" text-anchor="middle" class="pt">Model</text>
<text x="1070.8" y="1005.7" text-anchor="middle" class="nl">GPT 4.1 Mini</text>
<text x="1253.5" y="973.3" text-anchor="middle" class="nl">Notification Of New</text>
<text x="1253.5" y="979.9" text-anchor="middle" class="nl">Email</text>
<text x="1253.5" y="987.3" text-anchor="middle" class="ns">post: message</text>
<text x="1373.5" y="973.3" text-anchor="middle" class="nl">Mark a message as read</text>
<text x="1373.5" y="980.7" text-anchor="middle" class="ns">markAsRead: message</text>
<text x="985.5" y="1120.3" text-anchor="middle" class="nl">White Hawk Label</text>
<text x="985.5" y="1127.7" text-anchor="middle" class="ns">addLabels: message</text>
<rect x="1070.0" y="1116.4" width="12.4" height="3.8" fill="#2e2e30" fill-opacity="0.72"/><text x="1076.2" y="1119.4" text-anchor="middle" class="pt">Model*</text>
<rect x="1098.0" y="1148.6" width="11.0" height="3.8" fill="#2e2e30" fill-opacity="0.72"/><text x="1103.5" y="1151.6" text-anchor="middle" class="pt">Model</text>
<text x="1103.5" y="1191.4" text-anchor="middle" class="nl">GPT 4.1 Mini2</text>
<rect x="1283.9" y="1089.6" width="8.6" height="3.8" fill="#2e2e30" fill-opacity="0.72"/><text x="1284.5" y="1092.6" class="pl">Real</text>
<rect x="1283.9" y="1100.3" width="10.6" height="3.8" fill="#2e2e30" fill-opacity="0.72"/><text x="1284.5" y="1103.3" class="pl">Spam</text>
<rect x="1211.9" y="1116.4" width="12.4" height="3.8" fill="#2e2e30" fill-opacity="0.72"/><text x="1218.1" y="1119.4" text-anchor="middle" class="pt">Model*</text>
<rect x="1239.9" y="1148.6" width="11.0" height="3.8" fill="#2e2e30" fill-opacity="0.72"/><text x="1245.4" y="1151.6" text-anchor="middle" class="pt">Model</text>
<text x="1245.4" y="1191.4" text-anchor="middle" class="nl">GPT 5</text>
<rect x="1348.4" y="1073.1" width="12.4" height="3.8" fill="#2e2e30" fill-opacity="0.72"/><text x="1354.6" y="1076.1" text-anchor="middle" class="pt">Model*</text>
<text x="1542.5" y="1076.3" text-anchor="middle" class="nl">Reply to Contact</text>
<text x="1542.5" y="1083.7" text-anchor="middle" class="ns">send: message</text>
<text x="1614.5" y="1076.3" text-anchor="middle" class="nl">Mark a message as read1</text>
<text x="1614.5" y="1083.7" text-anchor="middle" class="ns">markAsRead: message</text>
<text x="1542.5" y="1169.3" text-anchor="middle" class="nl">Delete a message1</text>
<text x="1542.5" y="1176.7" text-anchor="middle" class="ns">delete: message</text>
<rect x="1344.0" y="1083.0" width="11.0" height="3.8" fill="#2e2e30" fill-opacity="0.72"/><text x="1349.5" y="1086.0" text-anchor="middle" class="pt">Model</text>
<text x="1349.5" y="1125.9" text-anchor="middle" class="nl">GPT 4o Mini1</text>
</svg>

<div id="tabs">
  <div class="tab act" style="left:7px;width:113px">Editor</div>
  <div class="tab" style="left:144px">Executions</div>
  <div class="tab" style="left:315px">Evaluations</div>
</div>

<div class="rbtn" style="top:153.3px"><svg width="78" height="78"><path d="M39,29 V50 M28.5,39.5 H49.5" stroke="#ececee" stroke-width="2.6"/></svg></div>
<div class="rbtn" style="top:251.7px"><svg width="78" height="78"><circle cx="37.7" cy="38.3" r="10.6" fill="none" stroke="#ececee" stroke-width="2.6"/><path d="M45.3,45.9 L51.5,52" stroke="#ececee" stroke-width="2.6" stroke-linecap="round"/></svg></div>
<div class="rbtn" style="top:350.1px"><svg width="78" height="78"><path d="M27.5,30 A3,3 0 0 1 30.5,27 H43.5 L50.5,34 V49.5 A3,3 0 0 1 47.5,52.5 H30.5 A3,3 0 0 1 27.5,49.5 Z" fill="none" stroke="#ececee" stroke-width="2.4" stroke-linejoin="round"/><path d="M43.5,27 V31 A3,3 0 0 0 46.5,34 H50.5" fill="none" stroke="#ececee" stroke-width="2.2"/></svg></div>
<div class="rbtn" style="top:448.5px"><svg width="78" height="78"><rect x="27.2" y="27.8" width="24.6" height="24.6" rx="3" fill="none" stroke="#ececee" stroke-width="2.4"/><path d="M43,27.8 V52.4" stroke="#ececee" stroke-width="2.4"/></svg></div>
<div class="rbtn" style="top:546.9px"><svg width="78" height="78"><defs><linearGradient id="sp" x1="0" y1="0" x2="1" y2="0"><stop offset="0" stop-color="#8d88fa"/><stop offset="0.45" stop-color="#ac7cf2"/><stop offset="1" stop-color="#e27ac0"/></linearGradient></defs>
<path transform="translate(35.8,41.3)" d="M0,-14.7 C3.2,-14.7 3.4,-6.6 5,-5 C6.6,-3.4 14.9,-3.2 14.9,0 C14.9,3.2 6.6,3.4 5,5 C3.4,6.6 3.2,14.7 0,14.7 C-3.2,14.7 -3.4,6.6 -5,5 C-6.6,3.4 -14.9,3.2 -14.9,0 C-14.9,-3.2 -6.6,-3.4 -5,-5 C-3.4,-6.6 -3.2,-14.7 0,-14.7 Z" fill="url(#sp)"/>
<path d="M45.8,21 V30.2 M41.2,25.6 H50.4" stroke="#b87cf2" stroke-width="2.1" stroke-linecap="round"/>
<path transform="translate(53.1,33.1)" d="M0,-3.6 C0.9,-3.6 0.9,-1 1.1,-1.1 C1,-0.9 3.6,-0.9 3.6,0 C3.6,0.9 1,0.9 1.1,1.1 C0.9,1 0.9,3.6 0,3.6 C-0.9,3.6 -0.9,1 -1.1,1.1 C-1,0.9 -3.6,0.9 -3.6,0 C-3.6,-0.9 -1,-0.9 -1.1,-1.1 C-0.9,-1 -0.9,-3.6 0,-3.6 Z" fill="#d67ac9" stroke="#d67ac9" stroke-width="0.8"/></svg></div>

<div id="collapse"><svg width="35" height="35" style="position:absolute;left:0;top:0"><path d="M17.2,12.6 L12.8,17 L17.2,21.4" fill="none" stroke="#d8dae2" stroke-width="2" stroke-linecap="round" stroke-linejoin="round"/></svg></div>
</body></html>
